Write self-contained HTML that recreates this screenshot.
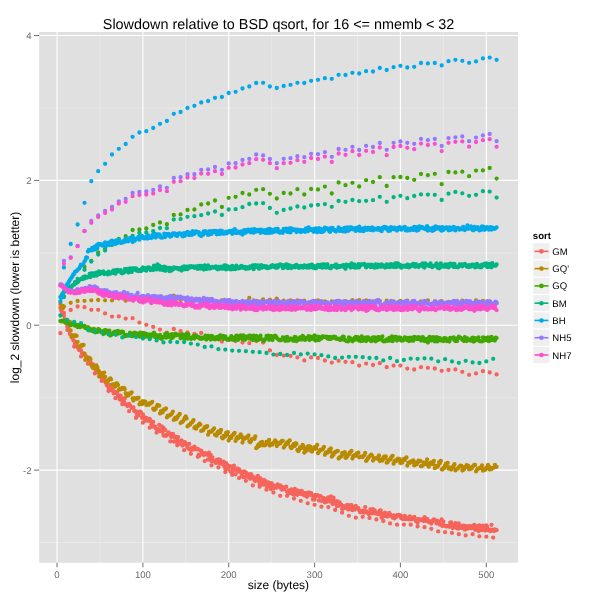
<!DOCTYPE html>
<html><head><meta charset="utf-8"><title>Slowdown relative to BSD qsort</title>
<style>
html,body{margin:0;padding:0;background:#FFFFFF;}
body{width:600px;height:600px;overflow:hidden;}
svg{display:block;text-rendering:geometricPrecision;font-family:"Liberation Sans",sans-serif;will-change:transform;-webkit-font-smoothing:antialiased;}
</style></head><body>
<svg width="600" height="600" viewBox="0 0 600 600">
<rect x="0" y="0" width="600" height="600" fill="#FFFFFF"/>
<rect x="39.2" y="32.0" width="478.8" height="530.7" fill="#E0E0E0"/>
<line x1="39.2" x2="518.0" y1="108.0" y2="108.0" stroke="#EFEFEF" stroke-width="0.6"/>
<line x1="39.2" x2="518.0" y1="253.0" y2="253.0" stroke="#EFEFEF" stroke-width="0.6"/>
<line x1="39.2" x2="518.0" y1="397.7" y2="397.7" stroke="#EFEFEF" stroke-width="0.6"/>
<line x1="39.2" x2="518.0" y1="542.5" y2="542.5" stroke="#EFEFEF" stroke-width="0.6"/>
<line x1="100.0" x2="100.0" y1="32.0" y2="562.7" stroke="#EFEFEF" stroke-width="0.6"/>
<line x1="185.8" x2="185.8" y1="32.0" y2="562.7" stroke="#EFEFEF" stroke-width="0.6"/>
<line x1="271.7" x2="271.7" y1="32.0" y2="562.7" stroke="#EFEFEF" stroke-width="0.6"/>
<line x1="357.5" x2="357.5" y1="32.0" y2="562.7" stroke="#EFEFEF" stroke-width="0.6"/>
<line x1="443.4" x2="443.4" y1="32.0" y2="562.7" stroke="#EFEFEF" stroke-width="0.6"/>
<line x1="39.2" x2="518.0" y1="35.5" y2="35.5" stroke="#FFFFFF" stroke-width="1.1"/>
<line x1="39.2" x2="518.0" y1="180.4" y2="180.4" stroke="#FFFFFF" stroke-width="1.1"/>
<line x1="39.2" x2="518.0" y1="325.2" y2="325.2" stroke="#FFFFFF" stroke-width="1.1"/>
<line x1="39.2" x2="518.0" y1="470.1" y2="470.1" stroke="#FFFFFF" stroke-width="1.1"/>
<line x1="57.0" x2="57.0" y1="32.0" y2="562.7" stroke="#FFFFFF" stroke-width="1.1"/>
<line x1="142.9" x2="142.9" y1="32.0" y2="562.7" stroke="#FFFFFF" stroke-width="1.1"/>
<line x1="228.7" x2="228.7" y1="32.0" y2="562.7" stroke="#FFFFFF" stroke-width="1.1"/>
<line x1="314.6" x2="314.6" y1="32.0" y2="562.7" stroke="#FFFFFF" stroke-width="1.1"/>
<line x1="400.4" x2="400.4" y1="32.0" y2="562.7" stroke="#FFFFFF" stroke-width="1.1"/>
<line x1="486.3" x2="486.3" y1="32.0" y2="562.7" stroke="#FFFFFF" stroke-width="1.1"/>
<line x1="34.0" x2="39.2" y1="35.5" y2="35.5" stroke="#6D6D6D" stroke-width="1"/>
<line x1="34.0" x2="39.2" y1="180.4" y2="180.4" stroke="#6D6D6D" stroke-width="1"/>
<line x1="34.0" x2="39.2" y1="325.2" y2="325.2" stroke="#6D6D6D" stroke-width="1"/>
<line x1="34.0" x2="39.2" y1="470.1" y2="470.1" stroke="#6D6D6D" stroke-width="1"/>
<line x1="57.0" x2="57.0" y1="562.7" y2="567.3" stroke="#6D6D6D" stroke-width="1"/>
<line x1="142.9" x2="142.9" y1="562.7" y2="567.3" stroke="#6D6D6D" stroke-width="1"/>
<line x1="228.7" x2="228.7" y1="562.7" y2="567.3" stroke="#6D6D6D" stroke-width="1"/>
<line x1="314.6" x2="314.6" y1="562.7" y2="567.3" stroke="#6D6D6D" stroke-width="1"/>
<line x1="400.4" x2="400.4" y1="562.7" y2="567.3" stroke="#6D6D6D" stroke-width="1"/>
<line x1="486.3" x2="486.3" y1="562.7" y2="567.3" stroke="#6D6D6D" stroke-width="1"/>
<g fill="none" stroke-width="4.3" stroke-linecap="round">
<path d="M63.9 313.0h0M70.7 310.0h0M77.6 306.5h0M84.5 307.2h0M91.3 309.8h0M98.2 309.8h0M105.1 313.4h0M112.0 316.6h0M118.8 316.4h0M125.7 318.6h0M132.6 318.2h0M139.4 322.6h0M146.3 324.8h0M153.2 327.0h0M160.0 329.6h0M166.9 332.6h0M173.8 329.0h0M180.6 331.2h0M187.5 332.4h0M194.4 334.0h0M201.2 333.0h0M208.1 336.0h0M215.0 339.0h0M221.9 341.6h0M228.7 340.0h0M235.6 341.0h0M242.5 342.6h0M249.3 343.2h0M256.2 341.0h0M263.1 342.6h0M269.9 350.4h0M276.8 355.0h0M283.7 355.6h0M290.5 356.0h0M297.4 357.4h0M304.3 360.4h0M311.1 357.4h0M318.0 358.0h0M324.9 360.5h0M331.8 362.6h0M338.6 360.8h0M345.5 361.8h0M352.4 362.2h0M359.2 365.6h0M366.1 363.6h0M373.0 365.0h0M379.8 363.2h0M386.7 367.2h0M393.6 365.6h0M400.4 365.6h0M407.3 368.6h0M414.2 369.5h0M421.0 367.2h0M427.9 367.8h0M434.8 368.5h0M441.7 370.8h0M448.5 370.0h0M455.4 369.4h0M462.3 371.8h0M469.1 374.8h0M476.0 373.4h0M482.9 371.2h0M489.7 372.4h0M496.6 374.4h0M60.4 333.2h0M67.3 329.9h0M74.2 346.5h0M81.0 356.4h0M87.9 363.7h0M94.8 373.4h0M101.6 380.9h0M108.5 391.0h0M115.4 398.2h0M122.3 404.3h0M129.1 411.2h0M136.0 417.9h0M142.9 422.7h0M149.7 427.7h0M156.6 432.6h0M163.5 435.5h0M170.3 441.4h0M177.2 445.3h0M184.1 450.2h0M190.9 453.8h0M197.8 456.8h0M204.7 461.1h0M211.5 465.3h0M218.4 467.4h0M225.3 472.1h0M232.2 474.8h0M239.0 478.1h0M245.9 480.8h0M252.8 485.4h0M259.6 486.7h0M266.5 489.7h0M273.4 492.5h0M280.2 495.8h0M287.1 495.8h0M294.0 498.6h0M300.8 500.8h0M307.7 503.3h0M314.6 504.8h0M321.4 506.7h0M328.3 507.1h0M335.2 510.0h0M342.1 512.7h0M348.9 515.8h0M355.8 517.7h0M362.7 516.8h0M369.5 517.9h0M376.4 519.4h0M383.3 521.0h0M390.1 523.4h0M397.0 524.7h0M403.9 524.6h0M410.7 524.7h0M417.6 526.4h0M424.5 527.2h0M431.3 528.8h0M438.2 531.4h0M445.1 532.2h0M452.0 532.9h0M458.8 534.2h0M465.7 535.4h0M472.6 534.2h0M479.4 536.3h0M486.3 536.7h0M493.2 537.6h0M60.4 308.0h0M61.3 310.6h0M62.2 312.5h0M63.0 313.8h0M63.9 315.6h0M64.7 319.2h0M65.6 321.5h0M66.4 323.7h0M67.3 326.4h0M68.2 328.4h0M69.0 330.6h0M69.9 333.9h0M70.7 334.6h0M71.6 337.3h0M72.5 338.1h0M73.3 340.2h0M74.2 341.0h0M75.0 343.7h0M75.9 344.9h0M76.7 346.1h0M77.6 347.2h0M78.5 348.8h0M79.3 350.2h0M80.2 349.9h0M81.0 350.5h0M81.9 352.7h0M82.8 353.4h0M83.6 354.0h0M84.5 354.4h0M85.3 356.1h0M86.2 356.3h0M87.1 358.7h0M87.9 357.9h0M88.8 360.6h0M89.6 361.4h0M90.5 362.2h0M91.3 363.6h0M92.2 365.5h0M93.1 364.5h0M93.9 365.8h0M94.8 367.3h0M95.6 370.0h0M96.5 371.1h0M97.4 372.3h0M98.2 370.3h0M99.1 371.4h0M99.9 374.1h0M100.8 375.5h0M101.6 377.5h0M102.5 377.7h0M103.4 378.7h0M104.2 380.9h0M105.1 381.0h0M105.9 382.9h0M106.8 385.2h0M107.7 386.1h0M108.5 387.6h0M109.4 385.0h0M110.2 386.5h0M111.1 389.4h0M112.0 390.5h0M112.8 388.6h0M113.7 393.4h0M114.5 392.0h0M115.4 392.5h0M116.2 392.9h0M117.1 392.2h0M118.0 394.9h0M118.8 396.2h0M119.7 399.4h0M120.5 395.7h0M121.4 399.7h0M122.3 401.2h0M123.1 398.4h0M124.0 401.5h0M124.8 398.6h0M125.7 404.5h0M126.5 404.8h0M127.4 406.1h0M128.3 404.1h0M129.1 403.9h0M130.0 405.5h0M130.8 406.3h0M131.7 407.9h0M132.6 408.1h0M133.4 407.5h0M134.3 411.2h0M135.1 411.2h0M136.0 411.3h0M136.8 414.3h0M137.7 415.7h0M138.6 415.2h0M139.4 412.0h0M140.3 411.6h0M141.1 412.5h0M142.0 417.8h0M142.9 414.5h0M143.7 416.7h0M144.6 420.9h0M145.4 418.8h0M146.3 417.8h0M147.2 419.2h0M148.0 420.8h0M148.9 419.8h0M149.7 418.9h0M150.6 421.0h0M151.4 424.5h0M152.3 426.6h0M153.2 422.0h0M154.0 426.5h0M154.9 426.5h0M155.7 428.3h0M156.6 429.0h0M157.5 429.5h0M158.3 429.1h0M159.2 424.9h0M160.0 431.2h0M160.9 430.2h0M161.7 426.3h0M162.6 432.1h0M163.5 427.8h0M164.3 429.7h0M165.2 429.9h0M166.0 435.9h0M166.9 434.4h0M167.8 434.4h0M168.6 432.4h0M169.5 433.3h0M170.3 433.6h0M171.2 437.1h0M172.1 435.9h0M172.9 434.0h0M173.8 441.6h0M174.6 437.4h0M175.5 436.6h0M176.3 441.8h0M177.2 439.3h0M178.1 437.1h0M178.9 441.6h0M179.8 443.5h0M180.6 441.1h0M181.5 440.3h0M182.4 445.6h0M183.2 444.4h0M184.1 444.6h0M184.9 442.1h0M185.8 444.7h0M186.6 444.1h0M187.5 447.4h0M188.4 448.6h0M189.2 443.9h0M190.1 449.7h0M190.9 450.0h0M191.8 448.0h0M192.7 447.8h0M193.5 449.7h0M194.4 446.6h0M195.2 448.6h0M196.1 448.6h0M197.0 449.4h0M197.8 448.9h0M198.7 454.7h0M199.5 455.8h0M200.4 450.4h0M201.2 450.6h0M202.1 452.3h0M203.0 453.8h0M203.8 455.0h0M204.7 453.7h0M205.5 453.1h0M206.4 454.2h0M207.3 454.8h0M208.1 459.5h0M209.0 452.6h0M209.8 457.7h0M210.7 454.9h0M211.5 461.2h0M212.4 457.4h0M213.3 460.9h0M214.1 461.6h0M215.0 461.0h0M215.8 462.9h0M216.7 460.0h0M217.6 460.1h0M218.4 459.3h0M219.3 463.3h0M220.1 459.8h0M221.0 463.3h0M221.9 463.9h0M222.7 462.8h0M223.6 461.7h0M224.4 466.6h0M225.3 468.8h0M226.1 463.1h0M227.0 464.7h0M227.9 468.8h0M228.7 466.3h0M229.6 466.1h0M230.4 471.5h0M231.3 466.7h0M232.2 472.3h0M233.0 468.9h0M233.9 465.6h0M234.7 469.7h0M235.6 474.3h0M236.4 470.1h0M237.3 468.5h0M238.2 471.3h0M239.0 469.1h0M239.9 471.9h0M240.7 471.3h0M241.6 475.8h0M242.5 473.8h0M243.3 477.2h0M244.2 471.5h0M245.0 477.1h0M245.9 472.4h0M246.8 474.0h0M247.6 474.5h0M248.5 477.2h0M249.3 474.5h0M250.2 478.8h0M251.0 474.2h0M251.9 477.6h0M252.8 476.4h0M253.6 478.4h0M254.5 480.4h0M255.3 481.0h0M256.2 478.5h0M257.1 477.0h0M257.9 475.9h0M258.8 480.9h0M259.6 484.1h0M260.5 478.4h0M261.3 481.2h0M262.2 481.3h0M263.1 484.6h0M263.9 480.0h0M264.8 482.1h0M265.6 481.2h0M266.5 486.1h0M267.4 482.6h0M268.2 482.3h0M269.1 485.4h0M269.9 486.8h0M270.8 489.0h0M271.6 483.2h0M272.5 486.1h0M273.4 485.5h0M274.2 488.0h0M275.1 487.3h0M275.9 485.9h0M276.8 487.7h0M277.7 484.5h0M278.5 485.5h0M279.4 485.8h0M280.2 485.4h0M281.1 488.6h0M282.0 489.7h0M282.8 487.2h0M283.7 489.3h0M284.5 488.6h0M285.4 487.3h0M286.2 486.7h0M287.1 491.9h0M288.0 492.5h0M288.8 490.5h0M289.7 493.1h0M290.5 490.7h0M291.4 489.5h0M292.3 491.1h0M293.1 494.4h0M294.0 494.7h0M294.8 489.0h0M295.7 492.9h0M296.5 490.1h0M297.4 494.8h0M298.3 490.8h0M299.1 492.3h0M300.0 491.7h0M300.8 493.9h0M301.7 490.8h0M302.6 494.3h0M303.4 493.0h0M304.3 495.4h0M305.1 494.0h0M306.0 493.1h0M306.9 496.8h0M307.7 492.7h0M308.6 494.9h0M309.4 492.6h0M310.3 493.1h0M311.1 493.1h0M312.0 495.4h0M312.9 499.5h0M313.7 498.5h0M314.6 499.6h0M315.4 494.8h0M316.3 496.2h0M317.2 495.2h0M318.0 495.3h0M318.9 500.4h0M319.7 496.3h0M320.6 496.2h0M321.4 500.9h0M322.3 500.4h0M323.2 498.0h0M324.0 499.4h0M324.9 502.4h0M325.7 498.9h0M326.6 500.2h0M327.5 501.6h0M328.3 497.3h0M329.2 498.9h0M330.0 501.6h0M330.9 496.5h0M331.8 500.9h0M332.6 504.1h0M333.5 497.7h0M334.3 501.4h0M335.2 503.2h0M336.0 501.2h0M336.9 506.1h0M337.8 501.5h0M338.6 505.8h0M339.5 502.3h0M340.3 503.8h0M341.2 504.7h0M342.1 509.0h0M342.9 505.9h0M343.8 508.4h0M344.6 506.4h0M345.5 507.0h0M346.3 507.4h0M347.2 505.0h0M348.1 509.4h0M348.9 509.3h0M349.8 507.2h0M350.6 505.2h0M351.5 505.1h0M352.4 510.2h0M353.2 506.9h0M354.1 508.7h0M354.9 509.6h0M355.8 505.9h0M356.7 507.4h0M357.5 508.1h0M358.4 508.2h0M359.2 510.5h0M360.1 512.3h0M360.9 511.7h0M361.8 511.1h0M362.7 510.6h0M363.5 512.4h0M364.4 512.6h0M365.2 507.1h0M366.1 511.1h0M367.0 512.5h0M367.8 512.5h0M368.7 514.1h0M369.5 513.6h0M370.4 509.3h0M371.2 513.1h0M372.1 513.4h0M373.0 509.2h0M373.8 510.0h0M374.7 510.5h0M375.5 513.4h0M376.4 512.3h0M377.3 513.5h0M378.1 514.2h0M379.0 514.0h0M379.8 510.6h0M380.7 510.4h0M381.6 517.5h0M382.4 513.6h0M383.3 513.8h0M384.1 516.0h0M385.0 512.6h0M385.8 514.5h0M386.7 516.4h0M387.6 516.6h0M388.4 514.6h0M389.3 513.0h0M390.1 514.3h0M391.0 515.9h0M391.9 515.9h0M392.7 517.7h0M393.6 515.4h0M394.4 518.4h0M395.3 516.2h0M396.1 517.1h0M397.0 515.2h0M397.9 515.6h0M398.7 514.9h0M399.6 516.0h0M400.4 515.3h0M401.3 518.4h0M402.2 516.6h0M403.0 519.0h0M403.9 518.2h0M404.7 515.8h0M405.6 519.2h0M406.5 517.6h0M407.3 518.3h0M408.2 519.2h0M409.0 519.3h0M409.9 516.4h0M410.7 519.2h0M411.6 519.2h0M412.5 519.0h0M413.3 517.9h0M414.2 517.0h0M415.0 518.2h0M415.9 521.0h0M416.8 519.6h0M417.6 522.7h0M418.5 519.1h0M419.3 519.1h0M420.2 519.6h0M421.0 520.0h0M421.9 519.5h0M422.8 520.5h0M423.6 521.1h0M424.5 517.2h0M425.3 519.0h0M426.2 521.1h0M427.1 518.8h0M427.9 520.4h0M428.8 522.0h0M429.6 522.0h0M430.5 521.4h0M431.3 523.5h0M432.2 521.8h0M433.1 520.1h0M433.9 519.3h0M434.8 520.3h0M435.6 520.5h0M436.5 523.3h0M437.4 520.8h0M438.2 523.3h0M439.1 521.9h0M439.9 524.7h0M440.8 524.7h0M441.7 519.3h0M442.5 526.1h0M443.4 521.6h0M444.2 525.3h0M445.1 525.6h0M445.9 526.3h0M446.8 526.4h0M447.7 526.2h0M448.5 525.8h0M449.4 526.8h0M450.2 522.7h0M451.1 522.4h0M452.0 525.0h0M452.8 528.1h0M453.7 525.6h0M454.5 527.3h0M455.4 523.2h0M456.2 526.8h0M457.1 528.3h0M458.0 528.7h0M458.8 523.5h0M459.7 527.0h0M460.5 526.2h0M461.4 528.1h0M462.3 527.0h0M463.1 525.6h0M464.0 525.6h0M464.8 529.7h0M465.7 526.2h0M466.6 527.8h0M467.4 528.7h0M468.3 527.9h0M469.1 525.8h0M470.0 528.1h0M470.8 528.1h0M471.7 528.2h0M472.6 525.9h0M473.4 527.3h0M474.3 524.9h0M475.1 529.8h0M476.0 529.1h0M476.9 526.1h0M477.7 527.1h0M478.6 531.0h0M479.4 525.4h0M480.3 528.0h0M481.1 527.0h0M482.0 530.2h0M482.9 525.6h0M483.7 526.3h0M484.6 529.0h0M485.4 530.7h0M486.3 525.5h0M487.2 526.8h0M488.0 529.9h0M488.9 530.5h0M489.7 529.7h0M490.6 531.1h0M491.5 524.8h0M492.3 529.7h0M493.2 530.2h0M494.0 531.0h0M494.9 529.5h0M495.7 530.2h0M496.6 530.1h0" stroke="#F6635A"/>
<path d="M63.9 306.5h0M70.7 302.8h0M77.6 301.0h0M84.5 300.8h0M91.3 300.3h0M98.2 300.0h0M105.1 300.3h0M112.0 300.4h0M118.8 298.6h0M125.7 300.7h0M132.6 300.3h0M139.4 301.4h0M146.3 300.2h0M153.2 301.2h0M160.0 300.8h0M166.9 300.1h0M173.8 295.6h0M180.6 300.1h0M187.5 301.0h0M194.4 300.2h0M201.2 300.2h0M208.1 300.9h0M215.0 301.8h0M221.9 300.3h0M228.7 300.5h0M235.6 301.4h0M242.5 302.1h0M249.3 298.0h0M256.2 300.9h0M263.1 299.4h0M269.9 299.6h0M276.8 298.6h0M283.7 300.6h0M290.5 300.3h0M297.4 300.3h0M304.3 300.7h0M311.1 301.8h0M318.0 300.4h0M324.9 301.3h0M331.8 301.4h0M338.6 300.8h0M345.5 301.2h0M352.4 300.1h0M359.2 300.1h0M366.1 300.5h0M373.0 301.5h0M379.8 300.9h0M386.7 300.7h0M393.6 301.3h0M400.4 301.0h0M407.3 300.7h0M414.2 301.7h0M421.0 301.5h0M427.9 300.5h0M434.8 301.3h0M441.7 301.2h0M448.5 301.9h0M455.4 301.6h0M462.3 300.6h0M469.1 302.2h0M476.0 300.3h0M482.9 300.9h0M489.7 301.7h0M496.6 303.0h0M60.4 303.9h0M61.3 305.3h0M62.2 306.0h0M63.0 308.1h0M63.9 320.9h0M64.7 322.1h0M65.6 322.5h0M66.4 322.4h0M67.3 321.6h0M68.2 321.9h0M69.0 322.3h0M69.9 322.0h0M70.7 330.4h0M71.6 336.5h0M72.5 335.4h0M73.3 336.1h0M74.2 335.3h0M75.0 335.2h0M75.9 335.8h0M76.7 335.8h0M77.6 341.9h0M78.5 346.3h0M79.3 346.3h0M80.2 346.3h0M81.0 346.0h0M81.9 345.0h0M82.8 345.5h0M83.6 344.9h0M84.5 353.7h0M85.3 359.9h0M86.2 358.9h0M87.1 358.6h0M87.9 359.2h0M88.8 357.6h0M89.6 357.8h0M90.5 359.1h0M91.3 365.0h0M92.2 366.9h0M93.1 368.0h0M93.9 367.9h0M94.8 366.5h0M95.6 367.8h0M96.5 365.4h0M97.4 367.4h0M98.2 370.7h0M99.1 376.5h0M99.9 373.7h0M100.8 374.0h0M101.6 375.1h0M102.5 373.2h0M103.4 373.2h0M104.2 372.6h0M105.1 377.0h0M105.9 381.5h0M106.8 381.3h0M107.7 381.2h0M108.5 380.2h0M109.4 379.5h0M110.2 378.3h0M111.1 379.3h0M112.0 384.6h0M112.8 384.5h0M113.7 384.5h0M114.5 385.9h0M115.4 386.5h0M116.2 383.4h0M117.1 383.3h0M118.0 385.1h0M118.8 389.8h0M119.7 388.9h0M120.5 389.4h0M121.4 389.2h0M122.3 387.9h0M123.1 388.8h0M124.0 387.9h0M124.8 389.1h0M125.7 393.2h0M126.5 396.0h0M127.4 394.8h0M128.3 395.5h0M129.1 393.6h0M130.0 393.2h0M130.8 393.6h0M131.7 392.3h0M132.6 398.5h0M133.4 400.5h0M134.3 398.1h0M135.1 398.7h0M136.0 398.3h0M136.8 398.9h0M137.7 397.9h0M138.6 397.9h0M139.4 404.3h0M140.3 402.4h0M141.1 402.6h0M142.0 404.2h0M142.9 401.2h0M143.7 402.2h0M144.6 401.4h0M145.4 401.7h0M146.3 405.1h0M147.2 404.6h0M148.0 404.1h0M148.9 404.8h0M149.7 403.1h0M150.6 403.3h0M151.4 403.0h0M152.3 401.8h0M153.2 408.7h0M154.0 409.9h0M154.9 409.5h0M155.7 408.7h0M156.6 406.6h0M157.5 404.9h0M158.3 405.6h0M159.2 405.7h0M160.0 413.5h0M160.9 411.1h0M161.7 411.2h0M162.6 412.4h0M163.5 409.8h0M164.3 409.2h0M165.2 409.5h0M166.0 408.4h0M166.9 417.4h0M167.8 415.7h0M168.6 415.8h0M169.5 415.5h0M170.3 414.9h0M171.2 414.5h0M172.1 413.3h0M172.9 411.6h0M173.8 419.9h0M174.6 418.7h0M175.5 417.6h0M176.3 419.1h0M177.2 417.7h0M178.1 415.9h0M178.9 415.1h0M179.8 413.9h0M180.6 423.1h0M181.5 422.1h0M182.4 421.9h0M183.2 420.9h0M184.1 419.3h0M184.9 417.6h0M185.8 416.5h0M186.6 418.5h0M187.5 426.4h0M188.4 425.5h0M189.2 425.0h0M190.1 424.6h0M190.9 423.1h0M191.8 422.7h0M192.7 421.6h0M193.5 420.2h0M194.4 427.9h0M195.2 426.8h0M196.1 428.7h0M197.0 426.2h0M197.8 426.3h0M198.7 424.8h0M199.5 423.7h0M200.4 424.6h0M201.2 430.9h0M202.1 430.3h0M203.0 430.4h0M203.8 429.0h0M204.7 427.4h0M205.5 426.6h0M206.4 427.3h0M207.3 426.2h0M208.1 434.7h0M209.0 431.9h0M209.8 431.8h0M210.7 431.3h0M211.5 431.7h0M212.4 430.4h0M213.3 429.6h0M214.1 428.3h0M215.0 434.7h0M215.8 435.3h0M216.7 435.6h0M217.6 432.4h0M218.4 431.5h0M219.3 432.9h0M220.1 432.5h0M221.0 429.9h0M221.9 437.5h0M222.7 438.4h0M223.6 436.0h0M224.4 436.9h0M225.3 436.3h0M226.1 432.9h0M227.0 434.5h0M227.9 432.2h0M228.7 440.6h0M229.6 438.2h0M230.4 437.0h0M231.3 437.9h0M232.2 435.3h0M233.0 434.9h0M233.9 433.7h0M234.7 432.8h0M235.6 440.9h0M236.4 438.6h0M237.3 437.1h0M238.2 438.3h0M239.0 436.3h0M239.9 437.2h0M240.7 434.5h0M241.6 436.1h0M242.5 442.5h0M243.3 439.4h0M244.2 439.0h0M245.0 438.2h0M245.9 437.4h0M246.8 437.6h0M247.6 437.5h0M248.5 435.4h0M249.3 441.3h0M250.2 442.3h0M251.0 441.3h0M251.9 439.1h0M252.8 438.8h0M253.6 438.6h0M254.5 438.9h0M255.3 436.4h0M256.2 448.2h0M257.1 447.4h0M257.9 445.5h0M258.8 444.5h0M259.6 445.9h0M260.5 442.6h0M261.3 442.4h0M262.2 441.9h0M263.1 445.3h0M263.9 444.8h0M264.8 445.3h0M265.6 444.9h0M266.5 442.0h0M267.4 441.8h0M268.2 442.7h0M269.1 439.9h0M269.9 445.6h0M270.8 443.9h0M271.6 444.2h0M272.5 444.6h0M273.4 442.7h0M274.2 442.2h0M275.1 440.3h0M275.9 441.6h0M276.8 446.0h0M277.7 444.1h0M278.5 444.0h0M279.4 442.6h0M280.2 443.4h0M281.1 442.0h0M282.0 441.0h0M282.8 440.9h0M283.7 447.6h0M284.5 446.4h0M285.4 445.1h0M286.2 443.9h0M287.1 442.5h0M288.0 443.6h0M288.8 441.1h0M289.7 440.5h0M290.5 446.9h0M291.4 448.2h0M292.3 447.0h0M293.1 445.2h0M294.0 443.9h0M294.8 445.9h0M295.7 443.1h0M296.5 443.9h0M297.4 450.0h0M298.3 451.2h0M299.1 450.0h0M300.0 447.5h0M300.8 447.1h0M301.7 447.9h0M302.6 444.8h0M303.4 446.0h0M304.3 452.7h0M305.1 450.0h0M306.0 448.6h0M306.9 450.5h0M307.7 447.0h0M308.6 446.2h0M309.4 447.9h0M310.3 446.6h0M311.1 451.1h0M312.0 451.6h0M312.9 448.9h0M313.7 448.7h0M314.6 447.2h0M315.4 448.8h0M316.3 448.3h0M317.2 444.9h0M318.0 453.2h0M318.9 452.1h0M319.7 450.8h0M320.6 449.8h0M321.4 449.8h0M322.3 449.4h0M323.2 448.5h0M324.0 446.8h0M324.9 454.8h0M325.7 452.7h0M326.6 452.5h0M327.5 452.7h0M328.3 451.7h0M329.2 449.7h0M330.0 451.3h0M330.9 448.3h0M331.8 456.7h0M332.6 454.3h0M333.5 454.8h0M334.3 452.5h0M335.2 452.5h0M336.0 451.7h0M336.9 451.4h0M337.8 451.0h0M338.6 458.5h0M339.5 457.5h0M340.3 456.9h0M341.2 456.5h0M342.1 453.1h0M342.9 454.6h0M343.8 454.2h0M344.6 452.1h0M345.5 457.8h0M346.3 457.7h0M347.2 456.3h0M348.1 454.3h0M348.9 454.7h0M349.8 452.5h0M350.6 452.1h0M351.5 451.0h0M352.4 458.6h0M353.2 455.9h0M354.1 455.9h0M354.9 454.9h0M355.8 455.8h0M356.7 453.5h0M357.5 453.4h0M358.4 452.7h0M359.2 457.3h0M360.1 457.0h0M360.9 456.6h0M361.8 456.7h0M362.7 457.1h0M363.5 455.8h0M364.4 455.1h0M365.2 452.9h0M366.1 460.9h0M367.0 459.9h0M367.8 458.4h0M368.7 457.2h0M369.5 456.4h0M370.4 455.7h0M371.2 454.6h0M372.1 455.7h0M373.0 460.6h0M373.8 458.8h0M374.7 458.7h0M375.5 458.1h0M376.4 458.1h0M377.3 458.5h0M378.1 457.1h0M379.0 455.5h0M379.8 461.0h0M380.7 460.2h0M381.6 459.3h0M382.4 460.5h0M383.3 457.8h0M384.1 456.7h0M385.0 458.3h0M385.8 456.5h0M386.7 462.7h0M387.6 462.3h0M388.4 460.6h0M389.3 459.7h0M390.1 459.7h0M391.0 457.9h0M391.9 456.4h0M392.7 455.8h0M393.6 463.7h0M394.4 461.2h0M395.3 460.3h0M396.1 461.0h0M397.0 460.5h0M397.9 458.6h0M398.7 459.3h0M399.6 459.2h0M400.4 463.0h0M401.3 461.5h0M402.2 462.7h0M403.0 460.7h0M403.9 459.0h0M404.7 460.0h0M405.6 458.3h0M406.5 457.5h0M407.3 465.6h0M408.2 462.9h0M409.0 462.9h0M409.9 462.0h0M410.7 462.6h0M411.6 461.1h0M412.5 461.5h0M413.3 460.4h0M414.2 465.4h0M415.0 464.1h0M415.9 462.7h0M416.8 464.3h0M417.6 462.3h0M418.5 460.7h0M419.3 461.6h0M420.2 461.0h0M421.0 466.2h0M421.9 466.0h0M422.8 465.3h0M423.6 462.5h0M424.5 464.1h0M425.3 463.9h0M426.2 462.4h0M427.1 459.4h0M427.9 465.1h0M428.8 466.7h0M429.6 463.4h0M430.5 462.7h0M431.3 462.5h0M432.2 464.0h0M433.1 462.9h0M433.9 460.9h0M434.8 468.2h0M435.6 465.8h0M436.5 466.2h0M437.4 466.8h0M438.2 465.4h0M439.1 462.1h0M439.9 463.2h0M440.8 461.0h0M441.7 469.3h0M442.5 469.5h0M443.4 468.0h0M444.2 468.0h0M445.1 465.6h0M445.9 463.7h0M446.8 465.7h0M447.7 462.9h0M448.5 468.6h0M449.4 467.6h0M450.2 467.7h0M451.1 469.5h0M452.0 467.4h0M452.8 467.4h0M453.7 465.6h0M454.5 464.2h0M455.4 470.4h0M456.2 469.5h0M457.1 468.9h0M458.0 468.5h0M458.8 467.1h0M459.7 466.5h0M460.5 465.7h0M461.4 465.8h0M462.3 470.5h0M463.1 468.0h0M464.0 469.6h0M464.8 467.1h0M465.7 466.7h0M466.6 465.2h0M467.4 467.1h0M468.3 465.8h0M469.1 469.4h0M470.0 469.0h0M470.8 468.5h0M471.7 468.5h0M472.6 466.6h0M473.4 466.0h0M474.3 464.8h0M475.1 465.0h0M476.0 471.4h0M476.9 469.9h0M477.7 468.9h0M478.6 468.4h0M479.4 468.3h0M480.3 467.9h0M481.1 467.1h0M482.0 465.5h0M482.9 470.7h0M483.7 470.3h0M484.6 469.1h0M485.4 469.7h0M486.3 467.7h0M487.2 467.7h0M488.0 464.9h0M488.9 466.3h0M489.7 469.5h0M490.6 468.4h0M491.5 469.1h0M492.3 468.0h0M493.2 467.9h0M494.0 467.6h0M494.9 464.8h0M495.7 466.6h0M496.6 466.8h0" stroke="#B98A00"/>
<path d="M63.9 296.5h0M70.7 287.5h0M77.6 281.0h0M84.5 267.0h0M91.3 261.0h0M98.2 252.5h0M105.1 248.8h0M112.0 244.0h0M118.8 238.8h0M125.7 236.2h0M132.6 230.0h0M139.4 229.5h0M146.3 228.5h0M153.2 225.0h0M160.0 222.5h0M166.9 224.2h0M173.8 215.0h0M180.6 214.4h0M187.5 210.0h0M194.4 209.5h0M201.2 204.5h0M208.1 203.5h0M215.0 200.5h0M221.9 207.0h0M228.7 197.8h0M235.6 196.8h0M242.5 193.0h0M249.3 194.5h0M256.2 189.8h0M263.1 189.2h0M269.9 193.8h0M276.8 198.5h0M283.7 193.0h0M290.5 193.5h0M297.4 189.2h0M304.3 194.5h0M311.1 189.0h0M318.0 189.5h0M324.9 186.6h0M331.8 193.5h0M338.6 182.5h0M345.5 185.2h0M352.4 182.8h0M359.2 186.5h0M366.1 180.2h0M373.0 182.0h0M379.8 177.2h0M386.7 186.0h0M393.6 177.2h0M400.4 177.0h0M407.3 178.0h0M414.2 179.8h0M421.0 174.0h0M427.9 175.2h0M434.8 173.8h0M441.7 184.2h0M448.5 172.0h0M455.4 172.4h0M462.3 171.7h0M469.1 176.2h0M476.0 170.6h0M482.9 170.4h0M489.7 168.0h0M496.6 178.6h0M60.4 321.1h0M61.3 320.9h0M62.2 321.4h0M63.0 320.7h0M63.9 320.8h0M64.7 321.5h0M65.6 321.7h0M66.4 322.8h0M67.3 322.8h0M68.2 323.0h0M69.0 324.0h0M69.9 324.1h0M70.7 325.3h0M71.6 324.3h0M72.5 323.7h0M73.3 324.1h0M74.2 325.0h0M75.0 325.7h0M75.9 324.6h0M76.7 324.9h0M77.6 327.0h0M78.5 326.5h0M79.3 324.8h0M80.2 327.2h0M81.0 325.8h0M81.9 326.2h0M82.8 326.4h0M83.6 326.1h0M84.5 325.9h0M85.3 328.1h0M86.2 327.8h0M87.1 327.9h0M87.9 327.1h0M88.8 330.4h0M89.6 328.3h0M90.5 329.1h0M91.3 330.7h0M92.2 329.7h0M93.1 331.3h0M93.9 328.9h0M94.8 332.1h0M95.6 332.3h0M96.5 330.4h0M97.4 331.9h0M98.2 329.2h0M99.1 329.5h0M99.9 331.2h0M100.8 331.6h0M101.6 332.0h0M102.5 331.2h0M103.4 334.0h0M104.2 333.6h0M105.1 330.1h0M105.9 330.2h0M106.8 332.1h0M107.7 332.5h0M108.5 332.0h0M109.4 330.6h0M110.2 335.5h0M111.1 335.0h0M112.0 333.7h0M112.8 334.1h0M113.7 332.4h0M114.5 332.0h0M115.4 331.7h0M116.2 334.6h0M117.1 333.8h0M118.0 331.0h0M118.8 332.6h0M119.7 333.3h0M120.5 333.1h0M121.4 331.6h0M122.3 332.0h0M123.1 332.0h0M124.0 336.4h0M124.8 335.5h0M125.7 336.2h0M126.5 334.9h0M127.4 335.7h0M128.3 335.4h0M129.1 335.3h0M130.0 332.6h0M130.8 335.8h0M131.7 336.1h0M132.6 336.0h0M133.4 333.6h0M134.3 332.7h0M135.1 336.1h0M136.0 333.2h0M136.8 333.4h0M137.7 335.8h0M138.6 336.2h0M139.4 336.5h0M140.3 332.7h0M141.1 335.4h0M142.0 337.1h0M142.9 332.9h0M143.7 334.5h0M144.6 333.5h0M145.4 336.8h0M146.3 333.9h0M147.2 334.8h0M148.0 336.5h0M148.9 336.8h0M149.7 334.5h0M150.6 337.2h0M151.4 335.2h0M152.3 335.3h0M153.2 333.5h0M154.0 332.7h0M154.9 336.9h0M155.7 334.6h0M156.6 335.5h0M157.5 337.6h0M158.3 336.1h0M159.2 337.8h0M160.0 334.9h0M160.9 336.4h0M161.7 339.1h0M162.6 337.3h0M163.5 336.9h0M164.3 336.8h0M165.2 333.8h0M166.0 337.7h0M166.9 333.4h0M167.8 337.0h0M168.6 334.7h0M169.5 335.4h0M170.3 336.7h0M171.2 338.2h0M172.1 334.2h0M172.9 337.6h0M173.8 336.0h0M174.6 334.3h0M175.5 333.7h0M176.3 335.4h0M177.2 335.1h0M178.1 334.6h0M178.9 334.9h0M179.8 335.6h0M180.6 338.3h0M181.5 337.9h0M182.4 334.5h0M183.2 336.1h0M184.1 335.2h0M184.9 338.5h0M185.8 335.1h0M186.6 334.0h0M187.5 338.7h0M188.4 334.5h0M189.2 337.4h0M190.1 338.1h0M190.9 338.9h0M191.8 337.5h0M192.7 337.8h0M193.5 336.1h0M194.4 338.5h0M195.2 336.8h0M196.1 335.5h0M197.0 336.3h0M197.8 337.2h0M198.7 337.2h0M199.5 338.5h0M200.4 337.7h0M201.2 338.9h0M202.1 338.5h0M203.0 338.0h0M203.8 337.5h0M204.7 338.6h0M205.5 335.6h0M206.4 339.5h0M207.3 336.4h0M208.1 335.8h0M209.0 337.8h0M209.8 336.9h0M210.7 339.5h0M211.5 335.8h0M212.4 336.4h0M213.3 338.8h0M214.1 339.0h0M215.0 339.4h0M215.8 337.4h0M216.7 338.5h0M217.6 336.9h0M218.4 339.3h0M219.3 339.0h0M220.1 335.3h0M221.0 335.6h0M221.9 337.3h0M222.7 336.0h0M223.6 338.8h0M224.4 337.2h0M225.3 336.4h0M226.1 338.6h0M227.0 339.7h0M227.9 339.2h0M228.7 339.5h0M229.6 338.3h0M230.4 338.3h0M231.3 336.2h0M232.2 339.7h0M233.0 337.5h0M233.9 339.1h0M234.7 340.2h0M235.6 339.4h0M236.4 335.7h0M237.3 335.9h0M238.2 339.8h0M239.0 337.4h0M239.9 337.2h0M240.7 335.3h0M241.6 338.2h0M242.5 339.3h0M243.3 335.5h0M244.2 336.9h0M245.0 339.8h0M245.9 336.6h0M246.8 337.3h0M247.6 336.4h0M248.5 338.3h0M249.3 335.7h0M250.2 335.6h0M251.0 339.0h0M251.9 338.7h0M252.8 340.1h0M253.6 335.7h0M254.5 337.4h0M255.3 339.7h0M256.2 335.9h0M257.1 340.3h0M257.9 340.2h0M258.8 338.9h0M259.6 336.8h0M260.5 335.6h0M261.3 339.2h0M262.2 339.7h0M263.1 339.6h0M263.9 341.2h0M264.8 339.8h0M265.6 338.8h0M266.5 335.9h0M267.4 337.1h0M268.2 335.7h0M269.1 339.8h0M269.9 336.7h0M270.8 336.2h0M271.6 336.1h0M272.5 340.0h0M273.4 337.2h0M274.2 336.4h0M275.1 335.7h0M275.9 336.3h0M276.8 338.0h0M277.7 338.8h0M278.5 339.8h0M279.4 340.0h0M280.2 340.1h0M281.1 340.2h0M282.0 339.4h0M282.8 337.3h0M283.7 338.0h0M284.5 339.1h0M285.4 340.9h0M286.2 337.2h0M287.1 337.0h0M288.0 340.5h0M288.8 340.4h0M289.7 338.6h0M290.5 339.1h0M291.4 338.6h0M292.3 339.2h0M293.1 340.7h0M294.0 340.8h0M294.8 337.0h0M295.7 337.2h0M296.5 341.0h0M297.4 339.4h0M298.3 339.8h0M299.1 339.5h0M300.0 337.3h0M300.8 339.3h0M301.7 339.5h0M302.6 336.0h0M303.4 336.7h0M304.3 339.5h0M305.1 339.9h0M306.0 338.1h0M306.9 338.3h0M307.7 337.8h0M308.6 336.2h0M309.4 340.1h0M310.3 337.0h0M311.1 336.9h0M312.0 339.1h0M312.9 336.6h0M313.7 338.0h0M314.6 335.4h0M315.4 340.5h0M316.3 339.8h0M317.2 340.1h0M318.0 336.7h0M318.9 340.2h0M319.7 337.3h0M320.6 337.3h0M321.4 338.6h0M322.3 336.4h0M323.2 336.3h0M324.0 336.8h0M324.9 336.8h0M325.7 337.1h0M326.6 336.6h0M327.5 338.6h0M328.3 337.4h0M329.2 339.1h0M330.0 336.8h0M330.9 338.9h0M331.8 337.3h0M332.6 337.6h0M333.5 336.6h0M334.3 337.9h0M335.2 336.9h0M336.0 338.7h0M336.9 338.9h0M337.8 338.7h0M338.6 338.8h0M339.5 339.6h0M340.3 340.1h0M341.2 338.2h0M342.1 339.3h0M342.9 336.7h0M343.8 337.0h0M344.6 340.1h0M345.5 340.2h0M346.3 341.1h0M347.2 341.2h0M348.1 341.4h0M348.9 337.3h0M349.8 338.6h0M350.6 338.4h0M351.5 340.1h0M352.4 341.3h0M353.2 339.4h0M354.1 340.0h0M354.9 337.6h0M355.8 337.0h0M356.7 339.3h0M357.5 337.2h0M358.4 338.7h0M359.2 340.7h0M360.1 337.7h0M360.9 341.0h0M361.8 336.4h0M362.7 340.8h0M363.5 339.1h0M364.4 339.0h0M365.2 337.6h0M366.1 341.0h0M367.0 337.4h0M367.8 337.3h0M368.7 337.7h0M369.5 339.8h0M370.4 340.2h0M371.2 341.2h0M372.1 338.8h0M373.0 337.3h0M373.8 340.4h0M374.7 337.5h0M375.5 341.3h0M376.4 338.2h0M377.3 340.3h0M378.1 337.2h0M379.0 337.1h0M379.8 339.4h0M380.7 339.4h0M381.6 337.3h0M382.4 336.5h0M383.3 341.3h0M384.1 340.7h0M385.0 341.4h0M385.8 340.3h0M386.7 339.5h0M387.6 340.9h0M388.4 339.2h0M389.3 337.8h0M390.1 340.5h0M391.0 337.6h0M391.9 336.5h0M392.7 341.2h0M393.6 339.1h0M394.4 338.6h0M395.3 336.9h0M396.1 336.9h0M397.0 340.5h0M397.9 338.2h0M398.7 339.5h0M399.6 337.3h0M400.4 337.7h0M401.3 340.6h0M402.2 340.1h0M403.0 340.5h0M403.9 339.4h0M404.7 337.5h0M405.6 337.7h0M406.5 338.7h0M407.3 340.2h0M408.2 338.0h0M409.0 341.1h0M409.9 338.1h0M410.7 337.7h0M411.6 340.7h0M412.5 338.1h0M413.3 340.7h0M414.2 336.8h0M415.0 337.3h0M415.9 337.5h0M416.8 339.1h0M417.6 339.2h0M418.5 337.1h0M419.3 337.8h0M420.2 337.7h0M421.0 340.5h0M421.9 338.8h0M422.8 337.1h0M423.6 339.8h0M424.5 341.2h0M425.3 338.9h0M426.2 340.4h0M427.1 338.8h0M427.9 342.5h0M428.8 338.0h0M429.6 336.9h0M430.5 339.3h0M431.3 340.5h0M432.2 338.3h0M433.1 337.1h0M433.9 340.3h0M434.8 341.4h0M435.6 338.0h0M436.5 337.2h0M437.4 341.4h0M438.2 337.8h0M439.1 338.9h0M439.9 338.2h0M440.8 340.4h0M441.7 340.7h0M442.5 339.7h0M443.4 341.1h0M444.2 338.2h0M445.1 338.4h0M445.9 338.3h0M446.8 341.2h0M447.7 339.8h0M448.5 341.2h0M449.4 341.6h0M450.2 337.8h0M451.1 338.5h0M452.0 338.3h0M452.8 338.3h0M453.7 337.3h0M454.5 340.3h0M455.4 341.0h0M456.2 338.9h0M457.1 341.0h0M458.0 338.3h0M458.8 336.7h0M459.7 337.7h0M460.5 337.6h0M461.4 338.6h0M462.3 339.8h0M463.1 338.9h0M464.0 341.0h0M464.8 337.1h0M465.7 339.0h0M466.6 341.0h0M467.4 338.4h0M468.3 340.1h0M469.1 339.6h0M470.0 340.2h0M470.8 340.7h0M471.7 338.4h0M472.6 337.7h0M473.4 341.6h0M474.3 341.3h0M475.1 338.1h0M476.0 339.3h0M476.9 340.0h0M477.7 339.4h0M478.6 337.5h0M479.4 341.0h0M480.3 341.3h0M481.1 341.1h0M482.0 341.4h0M482.9 337.3h0M483.7 340.7h0M484.6 338.0h0M485.4 339.2h0M486.3 338.3h0M487.2 340.4h0M488.0 337.4h0M488.9 341.2h0M489.7 340.4h0M490.6 340.2h0M491.5 336.8h0M492.3 338.8h0M493.2 340.0h0M494.0 338.9h0M494.9 340.5h0M495.7 337.6h0M496.6 338.1h0" stroke="#41A700"/>
<path d="M63.9 297.0h0M70.7 288.0h0M77.6 279.0h0M84.5 269.8h0M91.3 261.5h0M98.2 254.5h0M105.1 250.5h0M112.0 245.0h0M118.8 242.0h0M125.7 240.0h0M132.6 235.8h0M139.4 233.0h0M146.3 232.5h0M153.2 231.2h0M160.0 228.0h0M166.9 228.2h0M173.8 219.5h0M180.6 219.1h0M187.5 216.8h0M194.4 216.2h0M201.2 215.2h0M208.1 213.5h0M215.0 211.5h0M221.9 215.0h0M228.7 209.5h0M235.6 209.2h0M242.5 207.2h0M249.3 204.0h0M256.2 203.5h0M263.1 203.2h0M269.9 208.0h0M276.8 212.8h0M283.7 210.0h0M290.5 208.5h0M297.4 206.5h0M304.3 207.5h0M311.1 205.5h0M318.0 204.8h0M324.9 204.1h0M331.8 206.8h0M338.6 201.0h0M345.5 201.8h0M352.4 200.0h0M359.2 201.2h0M366.1 200.8h0M373.0 200.2h0M379.8 196.8h0M386.7 201.8h0M393.6 197.2h0M400.4 195.8h0M407.3 198.2h0M414.2 196.0h0M421.0 194.4h0M427.9 194.6h0M434.8 194.8h0M441.7 200.0h0M448.5 193.7h0M455.4 191.9h0M462.3 193.3h0M469.1 195.8h0M476.0 194.8h0M482.9 191.2h0M489.7 191.6h0M496.6 197.6h0M60.4 315.5h0M67.3 320.0h0M74.2 322.0h0M81.0 323.2h0M87.9 329.7h0M94.8 331.0h0M101.6 332.6h0M108.5 334.4h0M115.4 334.6h0M122.3 337.4h0M129.1 335.4h0M136.0 337.0h0M142.9 338.6h0M149.7 339.2h0M156.6 340.4h0M163.5 342.4h0M170.3 341.8h0M177.2 342.2h0M184.1 342.0h0M190.9 343.6h0M197.8 344.6h0M204.7 347.0h0M211.5 346.4h0M218.4 349.2h0M225.3 349.6h0M232.2 350.6h0M239.0 350.8h0M245.9 351.2h0M252.8 351.8h0M259.6 352.2h0M266.5 353.0h0M273.4 354.6h0M280.2 354.0h0M287.1 355.0h0M294.0 353.0h0M300.8 354.4h0M307.7 353.6h0M314.6 354.4h0M321.4 355.2h0M328.3 356.4h0M335.2 358.0h0M342.1 357.6h0M348.9 356.8h0M355.8 356.8h0M362.7 357.2h0M369.5 358.0h0M376.4 358.0h0M383.3 360.4h0M390.1 358.0h0M397.0 361.2h0M403.9 360.0h0M410.7 358.6h0M417.6 358.8h0M424.5 358.3h0M431.3 358.7h0M438.2 361.3h0M445.1 359.2h0M452.0 361.4h0M458.8 362.8h0M465.7 360.8h0M472.6 362.4h0M479.4 363.0h0M486.3 361.4h0M493.2 358.8h0M60.4 297.1h0M61.3 295.9h0M62.2 294.2h0M63.0 293.5h0M63.9 291.9h0M64.7 290.9h0M65.6 291.2h0M66.4 289.7h0M67.3 289.1h0M68.2 287.9h0M69.0 288.4h0M69.9 287.3h0M70.7 286.5h0M71.6 287.1h0M72.5 285.3h0M73.3 285.0h0M74.2 284.7h0M75.0 282.2h0M75.9 283.4h0M76.7 281.9h0M77.6 282.3h0M78.5 281.2h0M79.3 280.0h0M80.2 279.3h0M81.0 279.1h0M81.9 278.3h0M82.8 279.2h0M83.6 276.8h0M84.5 278.4h0M85.3 276.5h0M86.2 277.4h0M87.1 277.6h0M87.9 277.2h0M88.8 276.7h0M89.6 273.9h0M90.5 277.1h0M91.3 273.3h0M92.2 275.0h0M93.1 273.3h0M93.9 275.8h0M94.8 275.7h0M95.6 272.9h0M96.5 275.5h0M97.4 272.3h0M98.2 274.6h0M99.1 271.4h0M99.9 274.1h0M100.8 273.3h0M101.6 272.5h0M102.5 273.1h0M103.4 271.5h0M104.2 274.0h0M105.1 272.8h0M105.9 273.3h0M106.8 273.5h0M107.7 274.4h0M108.5 271.6h0M109.4 273.6h0M110.2 273.7h0M111.1 273.4h0M112.0 272.7h0M112.8 271.2h0M113.7 270.3h0M114.5 273.2h0M115.4 273.7h0M116.2 270.1h0M117.1 270.0h0M118.0 271.4h0M118.8 270.5h0M119.7 271.4h0M120.5 270.1h0M121.4 273.1h0M122.3 273.3h0M123.1 272.2h0M124.0 272.6h0M124.8 269.2h0M125.7 269.2h0M126.5 270.9h0M127.4 269.0h0M128.3 272.5h0M129.1 270.3h0M130.0 268.3h0M130.8 270.1h0M131.7 272.0h0M132.6 268.4h0M133.4 269.9h0M134.3 268.4h0M135.1 268.7h0M136.0 268.4h0M136.8 270.7h0M137.7 269.6h0M138.6 271.2h0M139.4 270.1h0M140.3 270.6h0M141.1 271.0h0M142.0 268.6h0M142.9 267.4h0M143.7 268.3h0M144.6 269.9h0M145.4 268.1h0M146.3 270.7h0M147.2 268.0h0M148.0 267.3h0M148.9 267.4h0M149.7 268.6h0M150.6 270.1h0M151.4 268.3h0M152.3 268.5h0M153.2 270.0h0M154.0 265.7h0M154.9 266.5h0M155.7 268.4h0M156.6 269.4h0M157.5 264.4h0M158.3 267.3h0M159.2 265.6h0M160.0 269.7h0M160.9 266.8h0M161.7 269.6h0M162.6 270.0h0M163.5 267.7h0M164.3 266.7h0M165.2 270.8h0M166.0 267.3h0M166.9 269.7h0M167.8 269.7h0M168.6 267.8h0M169.5 271.2h0M170.3 267.9h0M171.2 270.7h0M172.1 269.4h0M172.9 269.6h0M173.8 267.3h0M174.6 268.0h0M175.5 268.0h0M176.3 268.3h0M177.2 267.8h0M178.1 268.9h0M178.9 269.3h0M179.8 268.1h0M180.6 269.4h0M181.5 270.6h0M182.4 267.1h0M183.2 269.4h0M184.1 266.4h0M184.9 269.1h0M185.8 269.1h0M186.6 266.6h0M187.5 269.2h0M188.4 267.9h0M189.2 266.3h0M190.1 267.6h0M190.9 266.2h0M191.8 266.9h0M192.7 266.6h0M193.5 266.3h0M194.4 267.9h0M195.2 267.7h0M196.1 266.3h0M197.0 266.6h0M197.8 268.9h0M198.7 265.9h0M199.5 268.4h0M200.4 268.4h0M201.2 265.8h0M202.1 268.5h0M203.0 268.3h0M203.8 269.6h0M204.7 265.3h0M205.5 268.1h0M206.4 269.1h0M207.3 268.6h0M208.1 265.5h0M209.0 266.7h0M209.8 268.7h0M210.7 268.1h0M211.5 267.8h0M212.4 266.8h0M213.3 267.5h0M214.1 267.5h0M215.0 267.1h0M215.8 266.5h0M216.7 268.4h0M217.6 269.3h0M218.4 266.9h0M219.3 268.9h0M220.1 268.5h0M221.0 266.6h0M221.9 268.5h0M222.7 268.7h0M223.6 268.2h0M224.4 265.5h0M225.3 265.4h0M226.1 269.4h0M227.0 266.2h0M227.9 268.4h0M228.7 266.8h0M229.6 269.1h0M230.4 268.9h0M231.3 269.4h0M232.2 265.8h0M233.0 266.6h0M233.9 269.0h0M234.7 266.7h0M235.6 269.0h0M236.4 265.7h0M237.3 266.8h0M238.2 268.4h0M239.0 268.0h0M239.9 268.0h0M240.7 266.3h0M241.6 266.0h0M242.5 267.5h0M243.3 267.8h0M244.2 267.2h0M245.0 266.8h0M245.9 268.9h0M246.8 268.7h0M247.6 267.5h0M248.5 268.4h0M249.3 268.3h0M250.2 266.5h0M251.0 267.6h0M251.9 266.6h0M252.8 265.3h0M253.6 269.2h0M254.5 266.8h0M255.3 265.2h0M256.2 266.7h0M257.1 267.0h0M257.9 265.5h0M258.8 268.5h0M259.6 268.5h0M260.5 267.2h0M261.3 265.1h0M262.2 267.5h0M263.1 266.1h0M263.9 266.5h0M264.8 266.2h0M265.6 267.5h0M266.5 266.4h0M267.4 268.2h0M268.2 268.2h0M269.1 267.5h0M269.9 266.7h0M270.8 267.3h0M271.6 265.6h0M272.5 265.2h0M273.4 265.8h0M274.2 267.1h0M275.1 265.8h0M275.9 267.8h0M276.8 265.4h0M277.7 267.6h0M278.5 266.3h0M279.4 264.8h0M280.2 264.5h0M281.1 265.5h0M282.0 265.1h0M282.8 268.1h0M283.7 267.9h0M284.5 265.1h0M285.4 265.4h0M286.2 264.5h0M287.1 264.7h0M288.0 268.2h0M288.8 267.9h0M289.7 265.4h0M290.5 267.6h0M291.4 268.1h0M292.3 266.7h0M293.1 266.1h0M294.0 266.1h0M294.8 267.3h0M295.7 265.2h0M296.5 265.0h0M297.4 265.7h0M298.3 267.4h0M299.1 267.9h0M300.0 267.3h0M300.8 265.8h0M301.7 266.1h0M302.6 267.5h0M303.4 267.6h0M304.3 265.3h0M305.1 266.6h0M306.0 265.9h0M306.9 267.7h0M307.7 266.7h0M308.6 265.3h0M309.4 267.5h0M310.3 267.0h0M311.1 264.9h0M312.0 264.7h0M312.9 267.8h0M313.7 266.6h0M314.6 266.1h0M315.4 268.4h0M316.3 268.1h0M317.2 266.6h0M318.0 265.0h0M318.9 265.1h0M319.7 266.9h0M320.6 266.9h0M321.4 264.7h0M322.3 267.7h0M323.2 264.3h0M324.0 264.5h0M324.9 265.2h0M325.7 267.5h0M326.6 264.6h0M327.5 264.5h0M328.3 267.5h0M329.2 267.4h0M330.0 268.1h0M330.9 268.2h0M331.8 266.0h0M332.6 266.1h0M333.5 265.8h0M334.3 266.5h0M335.2 266.5h0M336.0 264.4h0M336.9 267.8h0M337.8 266.7h0M338.6 266.0h0M339.5 267.1h0M340.3 266.7h0M341.2 265.9h0M342.1 266.5h0M342.9 265.2h0M343.8 265.2h0M344.6 267.5h0M345.5 268.8h0M346.3 264.7h0M347.2 266.1h0M348.1 265.2h0M348.9 265.5h0M349.8 265.2h0M350.6 267.5h0M351.5 263.5h0M352.4 265.8h0M353.2 267.1h0M354.1 264.5h0M354.9 267.7h0M355.8 266.2h0M356.7 267.7h0M357.5 266.3h0M358.4 264.2h0M359.2 267.3h0M360.1 265.7h0M360.9 264.4h0M361.8 264.6h0M362.7 264.3h0M363.5 264.7h0M364.4 263.9h0M365.2 265.4h0M366.1 267.4h0M367.0 266.2h0M367.8 264.8h0M368.7 264.9h0M369.5 264.9h0M370.4 267.1h0M371.2 264.6h0M372.1 266.7h0M373.0 265.4h0M373.8 267.4h0M374.7 267.7h0M375.5 264.4h0M376.4 266.4h0M377.3 267.3h0M378.1 264.6h0M379.0 266.6h0M379.8 266.4h0M380.7 266.8h0M381.6 264.3h0M382.4 265.1h0M383.3 266.7h0M384.1 265.7h0M385.0 267.6h0M385.8 265.5h0M386.7 264.5h0M387.6 267.0h0M388.4 264.6h0M389.3 265.0h0M390.1 267.0h0M391.0 264.1h0M391.9 264.3h0M392.7 266.5h0M393.6 267.0h0M394.4 264.5h0M395.3 263.4h0M396.1 267.1h0M397.0 263.3h0M397.9 263.4h0M398.7 266.4h0M399.6 264.6h0M400.4 264.9h0M401.3 267.7h0M402.2 266.4h0M403.0 266.9h0M403.9 265.7h0M404.7 266.4h0M405.6 266.7h0M406.5 266.9h0M407.3 264.7h0M408.2 264.8h0M409.0 267.4h0M409.9 266.7h0M410.7 265.3h0M411.6 266.0h0M412.5 264.4h0M413.3 263.9h0M414.2 264.8h0M415.0 266.8h0M415.9 264.1h0M416.8 265.2h0M417.6 265.4h0M418.5 267.0h0M419.3 265.9h0M420.2 265.0h0M421.0 265.5h0M421.9 264.2h0M422.8 263.4h0M423.6 267.0h0M424.5 267.5h0M425.3 263.4h0M426.2 264.5h0M427.1 265.0h0M427.9 265.1h0M428.8 265.9h0M429.6 265.9h0M430.5 263.5h0M431.3 266.2h0M432.2 267.2h0M433.1 265.8h0M433.9 266.0h0M434.8 265.7h0M435.6 265.8h0M436.5 263.5h0M437.4 267.5h0M438.2 265.4h0M439.1 268.3h0M439.9 264.7h0M440.8 263.5h0M441.7 266.8h0M442.5 266.4h0M443.4 266.0h0M444.2 266.7h0M445.1 264.4h0M445.9 266.8h0M446.8 265.8h0M447.7 264.5h0M448.5 267.4h0M449.4 265.7h0M450.2 263.6h0M451.1 264.6h0M452.0 265.8h0M452.8 264.0h0M453.7 266.9h0M454.5 263.8h0M455.4 267.1h0M456.2 266.7h0M457.1 266.9h0M458.0 267.3h0M458.8 266.3h0M459.7 264.5h0M460.5 265.7h0M461.4 264.4h0M462.3 266.3h0M463.1 264.7h0M464.0 264.6h0M464.8 264.0h0M465.7 264.8h0M466.6 266.6h0M467.4 266.2h0M468.3 267.1h0M469.1 265.2h0M470.0 266.8h0M470.8 266.7h0M471.7 265.0h0M472.6 264.6h0M473.4 264.6h0M474.3 266.1h0M475.1 267.4h0M476.0 265.8h0M476.9 263.8h0M477.7 266.7h0M478.6 265.5h0M479.4 267.0h0M480.3 266.1h0M481.1 267.4h0M482.0 264.6h0M482.9 265.4h0M483.7 265.5h0M484.6 264.0h0M485.4 265.2h0M486.3 263.5h0M487.2 267.0h0M488.0 266.7h0M488.9 266.9h0M489.7 263.8h0M490.6 265.2h0M491.5 267.3h0M492.3 263.1h0M493.2 265.7h0M494.0 265.2h0M494.9 265.2h0M495.7 265.8h0M496.6 264.5h0" stroke="#00B483"/>
<path d="M63.9 267.5h0M70.7 244.0h0M77.6 224.5h0M84.5 202.8h0M91.3 181.2h0M98.2 171.2h0M105.1 163.8h0M112.0 154.5h0M118.8 148.8h0M125.7 144.0h0M132.6 136.8h0M139.4 132.5h0M146.3 131.2h0M153.2 128.0h0M160.0 123.8h0M166.9 121.0h0M173.8 113.8h0M180.6 112.0h0M187.5 108.0h0M194.4 105.8h0M201.2 102.5h0M208.1 101.0h0M215.0 97.8h0M221.9 97.0h0M228.7 93.0h0M235.6 91.8h0M242.5 88.5h0M249.3 86.5h0M256.2 83.0h0M263.1 82.8h0M269.9 86.5h0M276.8 88.0h0M283.7 86.0h0M290.5 84.8h0M297.4 82.8h0M304.3 83.0h0M311.1 80.8h0M318.0 79.8h0M324.9 78.2h0M331.8 78.8h0M338.6 74.8h0M345.5 75.0h0M352.4 72.8h0M359.2 73.5h0M366.1 71.2h0M373.0 71.5h0M379.8 68.0h0M386.7 70.0h0M393.6 67.2h0M400.4 65.8h0M407.3 67.5h0M414.2 66.8h0M421.0 63.0h0M427.9 63.4h0M434.8 63.0h0M441.7 65.4h0M448.5 61.2h0M455.4 59.8h0M462.3 60.8h0M469.1 62.8h0M476.0 61.4h0M482.9 58.4h0M489.7 57.6h0M496.6 59.8h0M60.4 301.4h0M61.3 297.7h0M62.2 296.0h0M63.0 293.4h0M63.9 291.8h0M64.7 289.2h0M65.6 288.3h0M66.4 285.5h0M67.3 284.0h0M68.2 283.2h0M69.0 281.5h0M69.9 280.0h0M70.7 279.0h0M71.6 277.5h0M72.5 276.2h0M73.3 274.4h0M74.2 273.9h0M75.0 271.9h0M75.9 271.2h0M76.7 271.0h0M77.6 270.0h0M78.5 269.1h0M79.3 268.4h0M80.2 266.5h0M81.0 264.7h0M81.9 264.6h0M82.8 264.7h0M83.6 263.8h0M84.5 261.6h0M85.3 260.2h0M86.2 257.4h0M87.1 257.7h0M87.9 251.6h0M88.8 250.0h0M89.6 250.0h0M90.5 250.3h0M91.3 250.4h0M92.2 247.9h0M93.1 249.9h0M93.9 247.3h0M94.8 246.7h0M95.6 249.3h0M96.5 245.4h0M97.4 248.2h0M98.2 244.1h0M99.1 244.8h0M99.9 244.0h0M100.8 244.3h0M101.6 245.1h0M102.5 245.7h0M103.4 244.8h0M104.2 243.6h0M105.1 242.4h0M105.9 246.3h0M106.8 243.8h0M107.7 242.8h0M108.5 243.7h0M109.4 245.1h0M110.2 241.8h0M111.1 241.1h0M112.0 240.7h0M112.8 243.9h0M113.7 242.1h0M114.5 241.4h0M115.4 244.0h0M116.2 240.5h0M117.1 243.2h0M118.0 242.7h0M118.8 239.7h0M119.7 242.3h0M120.5 242.8h0M121.4 242.9h0M122.3 242.3h0M123.1 241.1h0M124.0 242.2h0M124.8 240.2h0M125.7 238.6h0M126.5 241.2h0M127.4 239.8h0M128.3 241.3h0M129.1 238.3h0M130.0 238.1h0M130.8 238.0h0M131.7 240.1h0M132.6 242.0h0M133.4 238.5h0M134.3 240.9h0M135.1 240.2h0M136.0 238.6h0M136.8 238.5h0M137.7 238.0h0M138.6 237.0h0M139.4 239.7h0M140.3 237.9h0M141.1 237.0h0M142.0 236.0h0M142.9 237.4h0M143.7 238.3h0M144.6 238.3h0M145.4 237.5h0M146.3 236.6h0M147.2 238.5h0M148.0 235.4h0M148.9 238.1h0M149.7 237.3h0M150.6 237.6h0M151.4 238.0h0M152.3 235.2h0M153.2 237.0h0M154.0 236.2h0M154.9 234.0h0M155.7 237.5h0M156.6 235.9h0M157.5 234.3h0M158.3 236.2h0M159.2 234.4h0M160.0 235.2h0M160.9 237.5h0M161.7 237.4h0M162.6 237.6h0M163.5 236.9h0M164.3 233.6h0M165.2 237.1h0M166.0 235.6h0M166.9 233.9h0M167.8 235.2h0M168.6 233.9h0M169.5 234.7h0M170.3 236.7h0M171.2 236.2h0M172.1 234.4h0M172.9 233.4h0M173.8 234.1h0M174.6 233.3h0M175.5 235.4h0M176.3 234.9h0M177.2 236.0h0M178.1 233.6h0M178.9 233.3h0M179.8 233.3h0M180.6 234.0h0M181.5 233.9h0M182.4 236.2h0M183.2 236.3h0M184.1 233.2h0M184.9 235.8h0M185.8 234.2h0M186.6 232.6h0M187.5 231.8h0M188.4 233.5h0M189.2 235.2h0M190.1 233.0h0M190.9 233.0h0M191.8 234.9h0M192.7 231.1h0M193.5 232.0h0M194.4 233.8h0M195.2 232.2h0M196.1 231.3h0M197.0 232.2h0M197.8 232.5h0M198.7 232.2h0M199.5 235.1h0M200.4 233.8h0M201.2 236.0h0M202.1 233.4h0M203.0 234.8h0M203.8 231.4h0M204.7 231.5h0M205.5 231.2h0M206.4 232.7h0M207.3 233.8h0M208.1 234.9h0M209.0 232.0h0M209.8 231.1h0M210.7 234.2h0M211.5 233.9h0M212.4 231.1h0M213.3 231.2h0M214.1 231.0h0M215.0 232.2h0M215.8 230.8h0M216.7 234.3h0M217.6 232.7h0M218.4 231.4h0M219.3 234.1h0M220.1 230.7h0M221.0 233.7h0M221.9 230.8h0M222.7 233.2h0M223.6 233.7h0M224.4 233.6h0M225.3 233.3h0M226.1 231.6h0M227.0 233.3h0M227.9 231.6h0M228.7 231.3h0M229.6 230.8h0M230.4 232.2h0M231.3 232.2h0M232.2 233.8h0M233.0 230.4h0M233.9 232.8h0M234.7 229.1h0M235.6 230.4h0M236.4 233.0h0M237.3 232.9h0M238.2 231.7h0M239.0 232.6h0M239.9 232.8h0M240.7 233.4h0M241.6 231.5h0M242.5 234.6h0M243.3 233.4h0M244.2 230.1h0M245.0 232.5h0M245.9 232.5h0M246.8 229.9h0M247.6 230.5h0M248.5 229.6h0M249.3 231.2h0M250.2 231.9h0M251.0 232.4h0M251.9 229.5h0M252.8 231.0h0M253.6 232.7h0M254.5 229.2h0M255.3 229.3h0M256.2 231.5h0M257.1 230.3h0M257.9 231.1h0M258.8 229.8h0M259.6 229.8h0M260.5 232.8h0M261.3 229.7h0M262.2 232.1h0M263.1 230.4h0M263.9 231.4h0M264.8 232.8h0M265.6 230.1h0M266.5 233.0h0M267.4 231.1h0M268.2 229.2h0M269.1 233.1h0M269.9 228.8h0M270.8 229.8h0M271.6 232.7h0M272.5 232.4h0M273.4 230.4h0M274.2 229.7h0M275.1 231.6h0M275.9 229.0h0M276.8 230.0h0M277.7 228.8h0M278.5 231.9h0M279.4 232.5h0M280.2 232.7h0M281.1 231.3h0M282.0 232.1h0M282.8 232.8h0M283.7 229.0h0M284.5 230.2h0M285.4 230.0h0M286.2 228.7h0M287.1 231.8h0M288.0 232.1h0M288.8 230.8h0M289.7 228.3h0M290.5 232.4h0M291.4 228.5h0M292.3 230.0h0M293.1 229.5h0M294.0 229.9h0M294.8 229.5h0M295.7 230.8h0M296.5 232.1h0M297.4 229.7h0M298.3 230.7h0M299.1 231.1h0M300.0 229.9h0M300.8 232.0h0M301.7 230.5h0M302.6 231.3h0M303.4 231.0h0M304.3 229.9h0M305.1 231.8h0M306.0 228.3h0M306.9 230.1h0M307.7 231.2h0M308.6 227.5h0M309.4 230.3h0M310.3 228.9h0M311.1 229.5h0M312.0 230.3h0M312.9 229.1h0M313.7 231.8h0M314.6 230.6h0M315.4 228.4h0M316.3 229.8h0M317.2 232.2h0M318.0 231.0h0M318.9 228.1h0M319.7 229.3h0M320.6 231.9h0M321.4 229.1h0M322.3 232.1h0M323.2 229.7h0M324.0 231.0h0M324.9 227.7h0M325.7 228.3h0M326.6 228.9h0M327.5 228.4h0M328.3 229.6h0M329.2 231.3h0M330.0 231.9h0M330.9 228.2h0M331.8 229.3h0M332.6 228.0h0M333.5 229.9h0M334.3 230.0h0M335.2 231.0h0M336.0 231.6h0M336.9 230.2h0M337.8 230.1h0M338.6 227.5h0M339.5 230.8h0M340.3 230.8h0M341.2 230.3h0M342.1 228.8h0M342.9 231.3h0M343.8 228.7h0M344.6 227.8h0M345.5 231.5h0M346.3 230.3h0M347.2 227.5h0M348.1 230.9h0M348.9 230.3h0M349.8 227.5h0M350.6 229.1h0M351.5 227.4h0M352.4 229.2h0M353.2 228.4h0M354.1 229.5h0M354.9 228.4h0M355.8 230.9h0M356.7 227.8h0M357.5 228.7h0M358.4 230.2h0M359.2 226.7h0M360.1 230.9h0M360.9 230.6h0M361.8 228.7h0M362.7 230.8h0M363.5 231.2h0M364.4 228.2h0M365.2 227.6h0M366.1 228.3h0M367.0 229.9h0M367.8 228.0h0M368.7 227.8h0M369.5 228.6h0M370.4 229.9h0M371.2 229.4h0M372.1 227.4h0M373.0 230.4h0M373.8 229.5h0M374.7 228.7h0M375.5 229.3h0M376.4 229.3h0M377.3 229.7h0M378.1 227.8h0M379.0 228.8h0M379.8 230.0h0M380.7 228.7h0M381.6 231.2h0M382.4 228.0h0M383.3 228.7h0M384.1 226.9h0M385.0 227.2h0M385.8 227.1h0M386.7 228.9h0M387.6 228.4h0M388.4 230.9h0M389.3 228.2h0M390.1 230.7h0M391.0 227.2h0M391.9 228.3h0M392.7 228.5h0M393.6 229.2h0M394.4 227.7h0M395.3 229.3h0M396.1 229.8h0M397.0 230.6h0M397.9 227.8h0M398.7 228.7h0M399.6 227.1h0M400.4 228.4h0M401.3 229.7h0M402.2 228.1h0M403.0 228.6h0M403.9 227.2h0M404.7 226.8h0M405.6 230.3h0M406.5 228.6h0M407.3 230.5h0M408.2 228.7h0M409.0 229.3h0M409.9 230.3h0M410.7 228.8h0M411.6 228.5h0M412.5 228.9h0M413.3 230.1h0M414.2 226.8h0M415.0 228.5h0M415.9 227.1h0M416.8 230.7h0M417.6 228.5h0M418.5 229.9h0M419.3 226.5h0M420.2 226.9h0M421.0 227.5h0M421.9 226.9h0M422.8 228.2h0M423.6 228.0h0M424.5 228.8h0M425.3 229.0h0M426.2 229.5h0M427.1 226.2h0M427.9 230.7h0M428.8 230.2h0M429.6 228.5h0M430.5 229.1h0M431.3 229.1h0M432.2 230.9h0M433.1 227.6h0M433.9 230.2h0M434.8 228.9h0M435.6 226.5h0M436.5 228.7h0M437.4 227.4h0M438.2 227.5h0M439.1 228.8h0M439.9 227.5h0M440.8 230.1h0M441.7 230.7h0M442.5 227.2h0M443.4 229.9h0M444.2 228.6h0M445.1 228.4h0M445.9 227.7h0M446.8 227.4h0M447.7 228.6h0M448.5 230.3h0M449.4 227.5h0M450.2 230.1h0M451.1 227.9h0M452.0 228.0h0M452.8 229.3h0M453.7 227.0h0M454.5 229.2h0M455.4 230.4h0M456.2 228.6h0M457.1 228.5h0M458.0 227.9h0M458.8 228.4h0M459.7 229.7h0M460.5 229.0h0M461.4 228.5h0M462.3 229.2h0M463.1 226.9h0M464.0 229.4h0M464.8 230.1h0M465.7 228.4h0M466.6 227.8h0M467.4 225.4h0M468.3 228.8h0M469.1 226.8h0M470.0 227.1h0M470.8 226.5h0M471.7 229.1h0M472.6 230.1h0M473.4 230.3h0M474.3 227.0h0M475.1 228.6h0M476.0 229.1h0M476.9 228.2h0M477.7 227.2h0M478.6 228.3h0M479.4 230.4h0M480.3 229.5h0M481.1 229.9h0M482.0 226.3h0M482.9 229.0h0M483.7 226.9h0M484.6 229.8h0M485.4 228.3h0M486.3 228.5h0M487.2 227.2h0M488.0 228.8h0M488.9 229.7h0M489.7 228.6h0M490.6 227.1h0M491.5 229.6h0M492.3 227.7h0M493.2 228.9h0M494.0 228.2h0M494.9 228.8h0M495.7 228.0h0M496.6 227.3h0" stroke="#00A9E7"/>
<path d="M63.9 260.8h0M70.7 257.4h0M77.6 245.9h0M84.5 230.9h0M91.3 220.8h0M98.2 215.5h0M105.1 210.8h0M112.0 207.0h0M118.8 201.5h0M125.7 198.8h0M132.6 193.0h0M139.4 192.0h0M146.3 191.5h0M153.2 190.0h0M160.0 186.5h0M166.9 187.8h0M173.8 178.0h0M180.6 177.2h0M187.5 174.2h0M194.4 174.2h0M201.2 169.8h0M208.1 169.5h0M215.0 167.0h0M221.9 169.8h0M228.7 163.5h0M235.6 163.2h0M242.5 160.0h0M249.3 159.0h0M256.2 154.5h0M263.1 155.5h0M269.9 159.0h0M276.8 163.2h0M283.7 158.8h0M290.5 158.2h0M297.4 156.2h0M304.3 157.2h0M311.1 153.8h0M318.0 154.2h0M324.9 152.1h0M331.8 156.8h0M338.6 149.0h0M345.5 149.8h0M352.4 146.8h0M359.2 150.0h0M366.1 145.8h0M373.0 147.0h0M379.8 143.0h0M386.7 149.8h0M393.6 142.8h0M400.4 141.5h0M407.3 142.8h0M414.2 143.8h0M421.0 138.9h0M427.9 140.2h0M434.8 139.0h0M441.7 146.0h0M448.5 138.1h0M455.4 137.3h0M462.3 136.4h0M469.1 141.2h0M476.0 137.6h0M482.9 135.4h0M489.7 134.0h0M496.6 141.2h0M60.4 284.5h0M61.3 284.4h0M62.2 285.2h0M63.0 286.4h0M63.9 288.1h0M64.7 287.5h0M65.6 288.9h0M66.4 289.4h0M67.3 290.6h0M68.2 290.8h0M69.0 290.0h0M69.9 290.8h0M70.7 290.5h0M71.6 291.6h0M72.5 291.7h0M73.3 292.0h0M74.2 291.1h0M75.0 291.2h0M75.9 290.4h0M76.7 290.2h0M77.6 289.1h0M78.5 291.4h0M79.3 289.9h0M80.2 289.8h0M81.0 290.9h0M81.9 288.6h0M82.8 289.3h0M83.6 290.2h0M84.5 290.4h0M85.3 288.0h0M86.2 289.2h0M87.1 288.3h0M87.9 289.4h0M88.8 287.4h0M89.6 286.2h0M90.5 286.9h0M91.3 287.0h0M92.2 287.4h0M93.1 287.1h0M93.9 288.4h0M94.8 286.5h0M95.6 287.2h0M96.5 288.2h0M97.4 288.0h0M98.2 290.3h0M99.1 290.7h0M99.9 290.9h0M100.8 290.2h0M101.6 290.5h0M102.5 292.7h0M103.4 290.9h0M104.2 290.1h0M105.1 292.0h0M105.9 294.0h0M106.8 290.3h0M107.7 293.1h0M108.5 292.6h0M109.4 292.1h0M110.2 294.8h0M111.1 293.6h0M112.0 294.8h0M112.8 292.8h0M113.7 293.6h0M114.5 292.4h0M115.4 295.2h0M116.2 292.2h0M117.1 294.1h0M118.0 293.7h0M118.8 294.0h0M119.7 294.8h0M120.5 293.6h0M121.4 294.1h0M122.3 294.9h0M123.1 293.3h0M124.0 291.8h0M124.8 295.4h0M125.7 295.6h0M126.5 294.9h0M127.4 293.1h0M128.3 294.7h0M129.1 295.5h0M130.0 296.1h0M130.8 296.2h0M131.7 294.9h0M132.6 296.9h0M133.4 297.3h0M134.3 297.5h0M135.1 297.1h0M136.0 295.5h0M136.8 295.9h0M137.7 292.9h0M138.6 297.4h0M139.4 297.6h0M140.3 296.8h0M141.1 296.5h0M142.0 296.3h0M142.9 295.8h0M143.7 298.1h0M144.6 296.5h0M145.4 296.6h0M146.3 298.1h0M147.2 296.4h0M148.0 295.2h0M148.9 296.4h0M149.7 298.3h0M150.6 296.7h0M151.4 296.3h0M152.3 298.9h0M153.2 297.2h0M154.0 295.8h0M154.9 298.6h0M155.7 297.2h0M156.6 296.4h0M157.5 297.7h0M158.3 297.5h0M159.2 296.6h0M160.0 298.0h0M160.9 296.2h0M161.7 299.6h0M162.6 297.5h0M163.5 298.0h0M164.3 298.3h0M165.2 297.7h0M166.0 299.3h0M166.9 297.1h0M167.8 300.8h0M168.6 300.0h0M169.5 296.6h0M170.3 296.0h0M171.2 298.0h0M172.1 299.3h0M172.9 296.8h0M173.8 300.0h0M174.6 297.6h0M175.5 297.1h0M176.3 298.8h0M177.2 296.7h0M178.1 297.4h0M178.9 298.2h0M179.8 297.8h0M180.6 296.6h0M181.5 298.1h0M182.4 298.8h0M183.2 297.9h0M184.1 297.9h0M184.9 298.5h0M185.8 300.1h0M186.6 301.0h0M187.5 297.5h0M188.4 298.4h0M189.2 299.9h0M190.1 298.6h0M190.9 301.0h0M191.8 298.4h0M192.7 300.4h0M193.5 301.8h0M194.4 300.0h0M195.2 299.8h0M196.1 298.6h0M197.0 300.7h0M197.8 300.0h0M198.7 299.8h0M199.5 298.8h0M200.4 302.2h0M201.2 301.5h0M202.1 302.1h0M203.0 300.1h0M203.8 297.9h0M204.7 299.4h0M205.5 302.5h0M206.4 299.2h0M207.3 298.8h0M208.1 301.9h0M209.0 299.1h0M209.8 301.8h0M210.7 300.7h0M211.5 298.9h0M212.4 299.4h0M213.3 302.3h0M214.1 301.6h0M215.0 303.2h0M215.8 300.9h0M216.7 301.9h0M217.6 303.5h0M218.4 301.4h0M219.3 302.7h0M220.1 302.6h0M221.0 302.0h0M221.9 301.4h0M222.7 300.6h0M223.6 300.3h0M224.4 300.0h0M225.3 303.4h0M226.1 300.5h0M227.0 300.7h0M227.9 301.7h0M228.7 300.3h0M229.6 300.2h0M230.4 303.2h0M231.3 303.4h0M232.2 301.1h0M233.0 303.9h0M233.9 303.8h0M234.7 302.7h0M235.6 302.8h0M236.4 300.8h0M237.3 302.7h0M238.2 303.8h0M239.0 302.2h0M239.9 302.3h0M240.7 302.3h0M241.6 303.9h0M242.5 301.0h0M243.3 302.1h0M244.2 303.2h0M245.0 303.2h0M245.9 301.4h0M246.8 301.5h0M247.6 303.5h0M248.5 301.0h0M249.3 304.5h0M250.2 301.8h0M251.0 303.9h0M251.9 303.6h0M252.8 304.5h0M253.6 300.5h0M254.5 302.0h0M255.3 303.4h0M256.2 301.7h0M257.1 304.3h0M257.9 304.5h0M258.8 301.3h0M259.6 303.6h0M260.5 302.6h0M261.3 301.4h0M262.2 304.0h0M263.1 304.0h0M263.9 303.1h0M264.8 301.6h0M265.6 302.0h0M266.5 301.4h0M267.4 301.2h0M268.2 303.1h0M269.1 301.2h0M269.9 302.9h0M270.8 301.7h0M271.6 303.8h0M272.5 302.8h0M273.4 304.1h0M274.2 300.9h0M275.1 304.1h0M275.9 302.3h0M276.8 303.6h0M277.7 304.1h0M278.5 300.9h0M279.4 302.5h0M280.2 302.1h0M281.1 304.4h0M282.0 303.0h0M282.8 301.5h0M283.7 303.4h0M284.5 303.2h0M285.4 304.6h0M286.2 304.0h0M287.1 305.1h0M288.0 301.1h0M288.8 303.9h0M289.7 304.1h0M290.5 304.7h0M291.4 303.5h0M292.3 301.1h0M293.1 301.1h0M294.0 304.2h0M294.8 302.2h0M295.7 301.4h0M296.5 304.8h0M297.4 304.9h0M298.3 302.4h0M299.1 301.3h0M300.0 303.0h0M300.8 300.9h0M301.7 301.2h0M302.6 302.4h0M303.4 301.1h0M304.3 304.9h0M305.1 302.3h0M306.0 303.8h0M306.9 303.1h0M307.7 303.2h0M308.6 302.5h0M309.4 304.0h0M310.3 303.9h0M311.1 303.7h0M312.0 302.3h0M312.9 300.9h0M313.7 304.9h0M314.6 304.4h0M315.4 300.9h0M316.3 303.6h0M317.2 303.0h0M318.0 303.8h0M318.9 301.9h0M319.7 305.0h0M320.6 302.8h0M321.4 301.1h0M322.3 302.4h0M323.2 303.2h0M324.0 302.7h0M324.9 303.2h0M325.7 303.5h0M326.6 302.6h0M327.5 302.3h0M328.3 304.9h0M329.2 304.2h0M330.0 304.1h0M330.9 303.2h0M331.8 302.7h0M332.6 302.4h0M333.5 302.6h0M334.3 301.7h0M335.2 305.6h0M336.0 302.9h0M336.9 300.8h0M337.8 305.1h0M338.6 304.5h0M339.5 303.0h0M340.3 301.3h0M341.2 302.8h0M342.1 304.8h0M342.9 304.1h0M343.8 301.5h0M344.6 302.9h0M345.5 301.4h0M346.3 305.7h0M347.2 301.8h0M348.1 303.7h0M348.9 305.0h0M349.8 301.8h0M350.6 301.9h0M351.5 301.6h0M352.4 304.8h0M353.2 305.1h0M354.1 301.9h0M354.9 303.1h0M355.8 303.1h0M356.7 301.0h0M357.5 301.4h0M358.4 303.7h0M359.2 303.3h0M360.1 302.3h0M360.9 305.6h0M361.8 303.7h0M362.7 303.5h0M363.5 301.2h0M364.4 302.8h0M365.2 302.0h0M366.1 303.5h0M367.0 302.8h0M367.8 302.4h0M368.7 303.9h0M369.5 300.9h0M370.4 305.1h0M371.2 302.2h0M372.1 304.8h0M373.0 302.0h0M373.8 301.7h0M374.7 303.6h0M375.5 305.2h0M376.4 300.7h0M377.3 301.8h0M378.1 299.9h0M379.0 301.1h0M379.8 303.0h0M380.7 304.9h0M381.6 304.8h0M382.4 304.8h0M383.3 305.0h0M384.1 304.8h0M385.0 303.2h0M385.8 303.5h0M386.7 302.5h0M387.6 303.1h0M388.4 304.5h0M389.3 303.7h0M390.1 305.1h0M391.0 301.0h0M391.9 303.3h0M392.7 302.8h0M393.6 301.9h0M394.4 302.9h0M395.3 303.3h0M396.1 303.5h0M397.0 303.7h0M397.9 302.4h0M398.7 301.8h0M399.6 302.8h0M400.4 303.0h0M401.3 303.8h0M402.2 302.0h0M403.0 303.4h0M403.9 305.0h0M404.7 301.6h0M405.6 302.1h0M406.5 301.0h0M407.3 302.2h0M408.2 304.0h0M409.0 305.1h0M409.9 303.5h0M410.7 304.7h0M411.6 303.9h0M412.5 301.2h0M413.3 304.3h0M414.2 300.9h0M415.0 302.4h0M415.9 304.4h0M416.8 305.2h0M417.6 302.8h0M418.5 302.9h0M419.3 302.6h0M420.2 304.1h0M421.0 304.5h0M421.9 302.3h0M422.8 303.2h0M423.6 302.2h0M424.5 300.9h0M425.3 303.8h0M426.2 301.3h0M427.1 303.3h0M427.9 303.0h0M428.8 304.1h0M429.6 304.2h0M430.5 304.8h0M431.3 304.2h0M432.2 303.7h0M433.1 303.2h0M433.9 303.4h0M434.8 304.0h0M435.6 301.4h0M436.5 304.7h0M437.4 303.1h0M438.2 303.0h0M439.1 305.1h0M439.9 301.7h0M440.8 303.3h0M441.7 302.2h0M442.5 303.0h0M443.4 305.2h0M444.2 303.2h0M445.1 304.5h0M445.9 302.6h0M446.8 304.5h0M447.7 302.4h0M448.5 305.2h0M449.4 303.3h0M450.2 302.2h0M451.1 303.1h0M452.0 302.0h0M452.8 303.7h0M453.7 300.9h0M454.5 303.2h0M455.4 302.0h0M456.2 304.1h0M457.1 301.0h0M458.0 303.9h0M458.8 305.6h0M459.7 302.7h0M460.5 304.8h0M461.4 302.7h0M462.3 304.5h0M463.1 301.5h0M464.0 301.4h0M464.8 301.6h0M465.7 302.5h0M466.6 300.9h0M467.4 303.4h0M468.3 304.1h0M469.1 304.9h0M470.0 301.1h0M470.8 302.4h0M471.7 303.7h0M472.6 303.1h0M473.4 304.5h0M474.3 302.7h0M475.1 302.8h0M476.0 301.8h0M476.9 303.0h0M477.7 303.4h0M478.6 301.7h0M479.4 303.9h0M480.3 302.3h0M481.1 304.7h0M482.0 301.8h0M482.9 305.0h0M483.7 304.6h0M484.6 303.0h0M485.4 304.4h0M486.3 304.2h0M487.2 301.1h0M488.0 304.1h0M488.9 303.3h0M489.7 301.4h0M490.6 304.4h0M491.5 305.2h0M492.3 303.5h0M493.2 304.5h0M494.0 303.1h0M494.9 303.6h0M495.7 301.6h0M496.6 303.3h0" stroke="#9678FF"/>
<path d="M63.9 263.8h0M70.7 257.8h0M77.6 246.2h0M84.5 231.2h0M91.3 222.8h0M98.2 217.0h0M105.1 213.0h0M112.0 209.5h0M118.8 203.5h0M125.7 201.8h0M132.6 196.2h0M139.4 195.0h0M146.3 194.5h0M153.2 193.5h0M160.0 190.0h0M166.9 191.2h0M173.8 181.8h0M180.6 181.2h0M187.5 177.5h0M194.4 178.1h0M201.2 173.5h0M208.1 173.8h0M215.0 171.2h0M221.9 174.0h0M228.7 167.8h0M235.6 167.5h0M242.5 164.5h0M249.3 163.2h0M256.2 159.2h0M263.1 159.8h0M269.9 163.2h0M276.8 168.2h0M283.7 163.2h0M290.5 162.8h0M297.4 160.2h0M304.3 161.8h0M311.1 158.0h0M318.0 159.0h0M324.9 156.6h0M331.8 162.0h0M338.6 153.5h0M345.5 154.8h0M352.4 151.2h0M359.2 155.0h0M366.1 150.8h0M373.0 152.0h0M379.8 147.5h0M386.7 155.2h0M393.6 147.0h0M400.4 146.0h0M407.3 147.8h0M414.2 149.2h0M421.0 143.6h0M427.9 145.0h0M434.8 143.8h0M441.7 151.1h0M448.5 142.8h0M455.4 141.8h0M462.3 141.4h0M469.1 146.7h0M476.0 142.0h0M482.9 140.2h0M489.7 139.2h0M496.6 146.8h0M60.4 285.7h0M61.3 285.7h0M62.2 286.1h0M63.0 287.1h0M63.9 287.7h0M64.7 288.7h0M65.6 289.5h0M66.4 290.3h0M67.3 290.7h0M68.2 292.3h0M69.0 291.7h0M69.9 291.3h0M70.7 292.8h0M71.6 292.4h0M72.5 291.5h0M73.3 291.7h0M74.2 293.3h0M75.0 292.1h0M75.9 293.2h0M76.7 293.2h0M77.6 291.0h0M78.5 292.1h0M79.3 292.9h0M80.2 292.6h0M81.0 291.8h0M81.9 289.7h0M82.8 289.2h0M83.6 290.7h0M84.5 291.9h0M85.3 290.1h0M86.2 291.2h0M87.1 289.2h0M87.9 290.3h0M88.8 290.7h0M89.6 291.0h0M90.5 288.2h0M91.3 291.1h0M92.2 289.7h0M93.1 291.2h0M93.9 290.1h0M94.8 290.2h0M95.6 289.3h0M96.5 290.2h0M97.4 292.4h0M98.2 291.7h0M99.1 293.8h0M99.9 290.6h0M100.8 293.4h0M101.6 291.6h0M102.5 295.5h0M103.4 293.5h0M104.2 295.9h0M105.1 295.1h0M105.9 293.0h0M106.8 292.9h0M107.7 293.7h0M108.5 296.0h0M109.4 296.1h0M110.2 295.6h0M111.1 296.3h0M112.0 293.8h0M112.8 296.1h0M113.7 297.7h0M114.5 295.3h0M115.4 297.9h0M116.2 295.1h0M117.1 296.7h0M118.0 296.7h0M118.8 294.7h0M119.7 297.8h0M120.5 295.0h0M121.4 296.8h0M122.3 296.6h0M123.1 298.6h0M124.0 297.4h0M124.8 296.2h0M125.7 295.6h0M126.5 297.8h0M127.4 298.5h0M128.3 299.4h0M129.1 299.6h0M130.0 298.7h0M130.8 299.5h0M131.7 297.6h0M132.6 299.2h0M133.4 300.7h0M134.3 299.5h0M135.1 298.8h0M136.0 297.7h0M136.8 298.0h0M137.7 299.1h0M138.6 299.9h0M139.4 297.6h0M140.3 301.6h0M141.1 300.9h0M142.0 301.7h0M142.9 302.5h0M143.7 299.4h0M144.6 298.6h0M145.4 301.4h0M146.3 300.3h0M147.2 300.6h0M148.0 298.7h0M148.9 299.6h0M149.7 298.9h0M150.6 301.9h0M151.4 303.2h0M152.3 300.4h0M153.2 300.6h0M154.0 301.7h0M154.9 301.9h0M155.7 301.2h0M156.6 302.3h0M157.5 300.7h0M158.3 300.4h0M159.2 302.6h0M160.0 301.3h0M160.9 301.2h0M161.7 302.2h0M162.6 303.6h0M163.5 302.1h0M164.3 304.8h0M165.2 303.7h0M166.0 304.0h0M166.9 304.2h0M167.8 305.2h0M168.6 302.2h0M169.5 303.4h0M170.3 304.7h0M171.2 305.4h0M172.1 301.4h0M172.9 304.0h0M173.8 304.3h0M174.6 303.4h0M175.5 304.8h0M176.3 302.2h0M177.2 303.2h0M178.1 304.3h0M178.9 305.0h0M179.8 303.8h0M180.6 304.4h0M181.5 303.9h0M182.4 305.6h0M183.2 305.4h0M184.1 306.4h0M184.9 304.9h0M185.8 304.1h0M186.6 305.8h0M187.5 304.3h0M188.4 304.4h0M189.2 304.0h0M190.1 304.5h0M190.9 305.4h0M191.8 306.1h0M192.7 303.6h0M193.5 305.9h0M194.4 305.5h0M195.2 307.7h0M196.1 306.3h0M197.0 307.6h0M197.8 305.5h0M198.7 307.4h0M199.5 307.7h0M200.4 305.2h0M201.2 306.2h0M202.1 305.4h0M203.0 305.7h0M203.8 303.7h0M204.7 303.8h0M205.5 305.8h0M206.4 306.7h0M207.3 304.2h0M208.1 304.2h0M209.0 307.6h0M209.8 308.2h0M210.7 306.7h0M211.5 306.0h0M212.4 306.5h0M213.3 305.0h0M214.1 308.0h0M215.0 307.7h0M215.8 306.6h0M216.7 304.4h0M217.6 305.1h0M218.4 304.9h0M219.3 307.9h0M220.1 306.2h0M221.0 307.8h0M221.9 306.7h0M222.7 305.3h0M223.6 305.3h0M224.4 307.4h0M225.3 308.0h0M226.1 307.9h0M227.0 305.1h0M227.9 307.3h0M228.7 308.6h0M229.6 305.7h0M230.4 307.7h0M231.3 306.9h0M232.2 309.3h0M233.0 309.0h0M233.9 307.2h0M234.7 306.7h0M235.6 305.9h0M236.4 308.8h0M237.3 306.9h0M238.2 306.2h0M239.0 305.1h0M239.9 307.1h0M240.7 309.7h0M241.6 306.3h0M242.5 308.6h0M243.3 306.0h0M244.2 305.7h0M245.0 306.3h0M245.9 309.3h0M246.8 307.4h0M247.6 308.3h0M248.5 308.3h0M249.3 308.7h0M250.2 308.6h0M251.0 306.6h0M251.9 309.0h0M252.8 305.8h0M253.6 309.3h0M254.5 310.0h0M255.3 307.4h0M256.2 307.7h0M257.1 310.2h0M257.9 307.9h0M258.8 307.6h0M259.6 308.3h0M260.5 308.3h0M261.3 306.9h0M262.2 307.0h0M263.1 309.6h0M263.9 306.8h0M264.8 306.5h0M265.6 306.8h0M266.5 309.1h0M267.4 308.4h0M268.2 306.8h0M269.1 306.3h0M269.9 308.8h0M270.8 309.1h0M271.6 309.2h0M272.5 306.7h0M273.4 310.0h0M274.2 307.3h0M275.1 306.3h0M275.9 309.6h0M276.8 309.0h0M277.7 307.9h0M278.5 307.4h0M279.4 310.0h0M280.2 307.6h0M281.1 309.5h0M282.0 305.9h0M282.8 308.7h0M283.7 306.7h0M284.5 307.6h0M285.4 309.4h0M286.2 307.7h0M287.1 308.9h0M288.0 308.3h0M288.8 309.2h0M289.7 306.4h0M290.5 306.4h0M291.4 309.9h0M292.3 309.5h0M293.1 307.7h0M294.0 307.0h0M294.8 309.6h0M295.7 309.6h0M296.5 306.3h0M297.4 306.7h0M298.3 308.6h0M299.1 307.6h0M300.0 308.3h0M300.8 308.3h0M301.7 306.8h0M302.6 308.4h0M303.4 307.8h0M304.3 308.3h0M305.1 306.2h0M306.0 308.4h0M306.9 309.8h0M307.7 309.7h0M308.6 308.4h0M309.4 306.4h0M310.3 309.0h0M311.1 310.1h0M312.0 305.8h0M312.9 306.2h0M313.7 309.0h0M314.6 306.3h0M315.4 309.3h0M316.3 306.4h0M317.2 308.8h0M318.0 305.9h0M318.9 307.3h0M319.7 307.0h0M320.6 308.3h0M321.4 307.1h0M322.3 308.9h0M323.2 308.4h0M324.0 308.2h0M324.9 309.5h0M325.7 306.1h0M326.6 307.1h0M327.5 306.1h0M328.3 310.2h0M329.2 309.9h0M330.0 307.0h0M330.9 309.9h0M331.8 308.3h0M332.6 307.7h0M333.5 309.7h0M334.3 309.8h0M335.2 305.7h0M336.0 309.5h0M336.9 310.0h0M337.8 307.4h0M338.6 307.0h0M339.5 306.5h0M340.3 307.1h0M341.2 309.8h0M342.1 308.3h0M342.9 308.4h0M343.8 308.2h0M344.6 309.6h0M345.5 310.2h0M346.3 308.2h0M347.2 306.7h0M348.1 308.2h0M348.9 307.5h0M349.8 306.1h0M350.6 307.2h0M351.5 310.1h0M352.4 308.7h0M353.2 308.8h0M354.1 307.3h0M354.9 306.1h0M355.8 307.1h0M356.7 307.6h0M357.5 307.5h0M358.4 309.5h0M359.2 306.5h0M360.1 306.1h0M360.9 308.3h0M361.8 309.2h0M362.7 309.4h0M363.5 306.2h0M364.4 307.4h0M365.2 305.8h0M366.1 310.9h0M367.0 307.6h0M367.8 310.2h0M368.7 306.1h0M369.5 308.6h0M370.4 306.1h0M371.2 307.5h0M372.1 305.9h0M373.0 308.0h0M373.8 305.7h0M374.7 309.1h0M375.5 307.7h0M376.4 310.0h0M377.3 308.4h0M378.1 308.8h0M379.0 310.3h0M379.8 309.5h0M380.7 307.1h0M381.6 307.7h0M382.4 307.9h0M383.3 309.0h0M384.1 306.3h0M385.0 307.6h0M385.8 308.7h0M386.7 310.0h0M387.6 307.7h0M388.4 309.2h0M389.3 306.1h0M390.1 307.5h0M391.0 307.3h0M391.9 309.0h0M392.7 307.0h0M393.6 310.0h0M394.4 306.4h0M395.3 309.0h0M396.1 309.7h0M397.0 308.4h0M397.9 306.1h0M398.7 307.1h0M399.6 309.7h0M400.4 309.9h0M401.3 310.1h0M402.2 307.3h0M403.0 310.2h0M403.9 308.7h0M404.7 307.7h0M405.6 307.3h0M406.5 306.4h0M407.3 309.9h0M408.2 309.5h0M409.0 307.7h0M409.9 306.3h0M410.7 308.7h0M411.6 306.8h0M412.5 309.3h0M413.3 307.9h0M414.2 307.9h0M415.0 305.7h0M415.9 307.8h0M416.8 308.1h0M417.6 309.3h0M418.5 309.3h0M419.3 311.1h0M420.2 310.1h0M421.0 306.1h0M421.9 306.1h0M422.8 306.9h0M423.6 308.7h0M424.5 309.4h0M425.3 309.2h0M426.2 307.8h0M427.1 308.3h0M427.9 309.5h0M428.8 308.9h0M429.6 308.7h0M430.5 309.2h0M431.3 309.3h0M432.2 307.3h0M433.1 307.0h0M433.9 309.2h0M434.8 308.8h0M435.6 310.2h0M436.5 308.6h0M437.4 308.7h0M438.2 307.8h0M439.1 306.7h0M439.9 308.5h0M440.8 307.5h0M441.7 307.1h0M442.5 307.5h0M443.4 307.6h0M444.2 309.0h0M445.1 306.4h0M445.9 308.7h0M446.8 308.5h0M447.7 308.8h0M448.5 306.0h0M449.4 308.6h0M450.2 309.9h0M451.1 308.2h0M452.0 309.0h0M452.8 307.7h0M453.7 307.0h0M454.5 308.1h0M455.4 308.8h0M456.2 310.2h0M457.1 308.9h0M458.0 307.5h0M458.8 309.7h0M459.7 308.3h0M460.5 308.1h0M461.4 309.9h0M462.3 309.4h0M463.1 308.9h0M464.0 306.1h0M464.8 308.1h0M465.7 306.7h0M466.6 307.5h0M467.4 307.1h0M468.3 306.6h0M469.1 309.4h0M470.0 306.4h0M470.8 307.2h0M471.7 309.0h0M472.6 308.2h0M473.4 309.4h0M474.3 310.8h0M475.1 309.4h0M476.0 306.0h0M476.9 309.3h0M477.7 308.2h0M478.6 307.1h0M479.4 307.8h0M480.3 309.4h0M481.1 306.0h0M482.0 308.6h0M482.9 305.9h0M483.7 306.1h0M484.6 308.7h0M485.4 308.1h0M486.3 308.8h0M487.2 310.0h0M488.0 307.7h0M488.9 308.7h0M489.7 307.8h0M490.6 307.3h0M491.5 305.9h0M492.3 307.2h0M493.2 308.0h0M494.0 307.6h0M494.9 306.1h0M495.7 309.1h0M496.6 310.1h0" stroke="#FA4ECF"/>
</g>
<text transform="translate(31.5,39.1)" text-anchor="end" font-size="9.6" fill="#6D6D6D">4</text>
<text transform="translate(31.5,184.0)" text-anchor="end" font-size="9.6" fill="#6D6D6D">2</text>
<text transform="translate(31.5,328.8)" text-anchor="end" font-size="9.6" fill="#6D6D6D">0</text>
<text transform="translate(31.5,473.7)" text-anchor="end" font-size="9.6" fill="#6D6D6D">-2</text>
<text transform="translate(57.0,578)" text-anchor="middle" font-size="9.6" fill="#6D6D6D">0</text>
<text transform="translate(142.9,578)" text-anchor="middle" font-size="9.6" fill="#6D6D6D">100</text>
<text transform="translate(228.7,578)" text-anchor="middle" font-size="9.6" fill="#6D6D6D">200</text>
<text transform="translate(314.6,578)" text-anchor="middle" font-size="9.6" fill="#6D6D6D">300</text>
<text transform="translate(400.4,578)" text-anchor="middle" font-size="9.6" fill="#6D6D6D">400</text>
<text transform="translate(486.3,578)" text-anchor="middle" font-size="9.6" fill="#6D6D6D">500</text>
<text x="278.6" y="29" text-anchor="middle" font-size="14.4" fill="#000">Slowdown relative to BSD qsort, for 16 &lt;= nmemb &lt; 32</text>
<text x="278.4" y="589.3" text-anchor="middle" font-size="12" fill="#000">size (bytes)</text>
<text transform="translate(19.4,297.5) rotate(-90)" text-anchor="middle" font-size="12" fill="#000">log_2 slowdown (lower is better)</text>
<text x="532.8" y="238.8" font-size="9.6" font-weight="bold" fill="#000">sort</text>
<rect x="532.8" y="242.70" width="17.28" height="17.28" fill="#EFEFEF" stroke="#FFFFFF" stroke-width="1"/>
<line x1="534.5" x2="548.4" y1="251.34" y2="251.34" stroke="#F6635A" stroke-width="1.6"/>
<circle cx="541.44" cy="251.34" r="2.3" fill="#F6635A"/>
<text transform="translate(552.3,254.84)" font-size="9.6" fill="#000">GM</text>
<rect x="532.8" y="259.98" width="17.28" height="17.28" fill="#EFEFEF" stroke="#FFFFFF" stroke-width="1"/>
<line x1="534.5" x2="548.4" y1="268.62" y2="268.62" stroke="#B98A00" stroke-width="1.6"/>
<circle cx="541.44" cy="268.62" r="2.3" fill="#B98A00"/>
<text transform="translate(552.3,272.12)" font-size="9.6" fill="#000">GQ'</text>
<rect x="532.8" y="277.26" width="17.28" height="17.28" fill="#EFEFEF" stroke="#FFFFFF" stroke-width="1"/>
<line x1="534.5" x2="548.4" y1="285.90" y2="285.90" stroke="#41A700" stroke-width="1.6"/>
<circle cx="541.44" cy="285.90" r="2.3" fill="#41A700"/>
<text transform="translate(552.3,289.40)" font-size="9.6" fill="#000">GQ</text>
<rect x="532.8" y="294.54" width="17.28" height="17.28" fill="#EFEFEF" stroke="#FFFFFF" stroke-width="1"/>
<line x1="534.5" x2="548.4" y1="303.18" y2="303.18" stroke="#00B483" stroke-width="1.6"/>
<circle cx="541.44" cy="303.18" r="2.3" fill="#00B483"/>
<text transform="translate(552.3,306.68)" font-size="9.6" fill="#000">BM</text>
<rect x="532.8" y="311.82" width="17.28" height="17.28" fill="#EFEFEF" stroke="#FFFFFF" stroke-width="1"/>
<line x1="534.5" x2="548.4" y1="320.46" y2="320.46" stroke="#00A9E7" stroke-width="1.6"/>
<circle cx="541.44" cy="320.46" r="2.3" fill="#00A9E7"/>
<text transform="translate(552.3,323.96)" font-size="9.6" fill="#000">BH</text>
<rect x="532.8" y="329.10" width="17.28" height="17.28" fill="#EFEFEF" stroke="#FFFFFF" stroke-width="1"/>
<line x1="534.5" x2="548.4" y1="337.74" y2="337.74" stroke="#9678FF" stroke-width="1.6"/>
<circle cx="541.44" cy="337.74" r="2.3" fill="#9678FF"/>
<text transform="translate(552.3,341.24)" font-size="9.6" fill="#000">NH5</text>
<rect x="532.8" y="346.38" width="17.28" height="17.28" fill="#EFEFEF" stroke="#FFFFFF" stroke-width="1"/>
<line x1="534.5" x2="548.4" y1="355.02" y2="355.02" stroke="#FA4ECF" stroke-width="1.6"/>
<circle cx="541.44" cy="355.02" r="2.3" fill="#FA4ECF"/>
<text transform="translate(552.3,358.52)" font-size="9.6" fill="#000">NH7</text>
</svg>
</body></html>
